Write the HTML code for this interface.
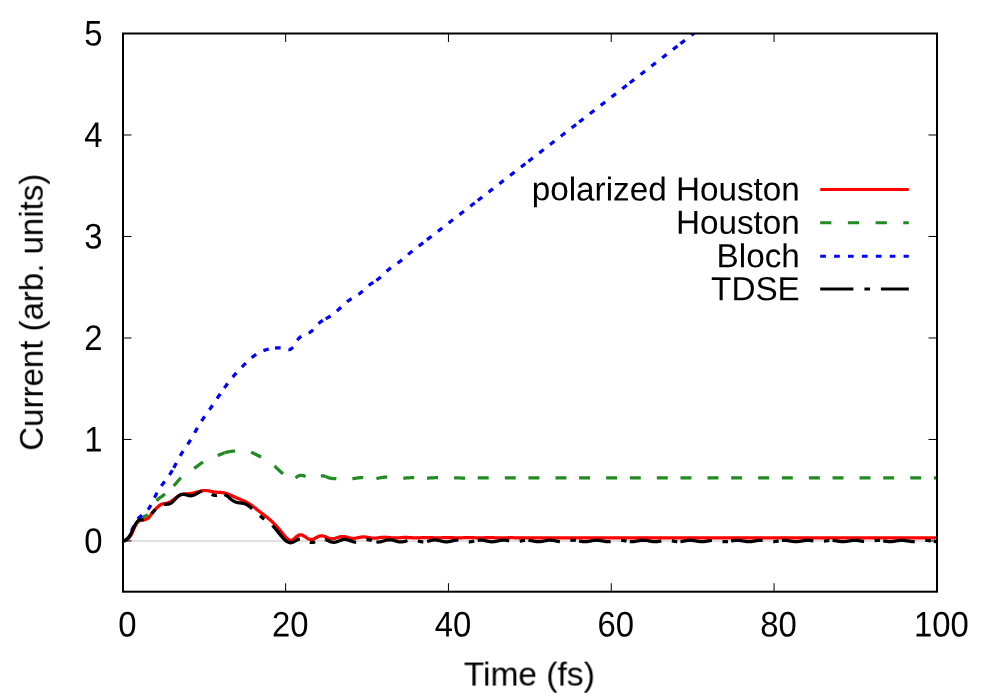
<!DOCTYPE html>
<html lang="en"><head><meta charset="utf-8"><title>Current vs Time</title>
<style>html,body{margin:0;padding:0;background:#fff;}body{width:997px;height:698px;overflow:hidden;font-family:"Liberation Sans",sans-serif;}</style>
</head><body>
<svg width="997" height="698" viewBox="0 0 997 698" style="display:block;font-family:'Liberation Sans',sans-serif;font-size:33.33px" fill="#000">
<rect width="997" height="698" fill="#fff"/>
<defs><clipPath id="pc"><rect x="123.0" y="33.5" width="814.0" height="558.2"/></clipPath></defs>
<line x1="123.0" y1="541" x2="937.0" y2="541" stroke="#e0e0e0" stroke-width="2"/>
<g stroke="#000" stroke-width="1"><line x1="285.65" y1="591.7" x2="285.65" y2="583.2"/><line x1="285.65" y1="33.5" x2="285.65" y2="42.0"/><line x1="448.45" y1="591.7" x2="448.45" y2="583.2"/><line x1="448.45" y1="33.5" x2="448.45" y2="42.0"/><line x1="611.25" y1="591.7" x2="611.25" y2="583.2"/><line x1="611.25" y1="33.5" x2="611.25" y2="42.0"/><line x1="774.05" y1="591.7" x2="774.05" y2="583.2"/><line x1="774.05" y1="33.5" x2="774.05" y2="42.0"/><line x1="123.0" y1="540.95" x2="131.5" y2="540.95"/><line x1="937.0" y1="540.95" x2="928.5" y2="540.95"/><line x1="123.0" y1="439.46" x2="131.5" y2="439.46"/><line x1="937.0" y1="439.46" x2="928.5" y2="439.46"/><line x1="123.0" y1="337.97" x2="131.5" y2="337.97"/><line x1="937.0" y1="337.97" x2="928.5" y2="337.97"/><line x1="123.0" y1="236.48" x2="131.5" y2="236.48"/><line x1="937.0" y1="236.48" x2="928.5" y2="236.48"/><line x1="123.0" y1="134.99" x2="131.5" y2="134.99"/><line x1="937.0" y1="134.99" x2="928.5" y2="134.99"/><line x1="123.0" y1="33.50" x2="131.5" y2="33.50"/><line x1="937.0" y1="33.50" x2="928.5" y2="33.50"/></g>
<g clip-path="url(#pc)">
<path fill="none" stroke="#ff0000" stroke-width="3.25" stroke-linejoin="round" d="M123.00 540.80 L123.50 540.80 L124.00 540.78 L124.50 540.73 L125.00 540.64 L125.50 540.50 L126.00 540.30 L126.50 540.03 L127.00 539.70 L127.50 539.30 L128.00 538.83 L128.50 538.31 L129.00 537.73 L129.50 537.13 L130.00 536.49 L130.50 535.80 L131.00 535.02 L131.50 534.12 L132.00 533.10 L132.50 531.99 L133.00 530.83 L133.50 529.66 L134.00 528.52 L134.50 527.44 L135.00 526.41 L135.50 525.44 L136.00 524.54 L136.50 523.71 L137.00 522.96 L137.50 522.30 L138.00 521.73 L138.50 521.26 L139.00 520.90 L139.50 520.63 L140.00 520.45 L140.50 520.33 L141.00 520.25 L141.50 520.20 L142.00 520.16 L142.50 520.11 L143.00 520.06 L143.50 520.00 L144.00 519.92 L144.50 519.82 L145.00 519.70 L145.50 519.54 L146.00 519.35 L146.50 519.12 L147.00 518.86 L147.50 518.55 L148.00 518.19 L148.50 517.78 L149.00 517.30 L149.50 516.76 L150.00 516.13 L150.50 515.43 L151.00 514.68 L151.50 513.90 L152.00 513.15 L152.50 512.44 L153.00 511.80 L153.50 511.19 L154.00 510.63 L154.50 510.09 L155.00 509.56 L155.50 509.05 L156.00 508.56 L156.50 508.07 L157.00 507.59 L157.50 507.12 L158.00 506.66 L158.50 506.22 L159.00 505.80 L159.50 505.41 L160.00 505.06 L160.50 504.76 L161.00 504.50 L161.50 504.28 L162.00 504.09 L162.50 503.94 L163.00 503.82 L163.50 503.73 L164.00 503.65 L164.50 503.58 L165.00 503.52 L165.50 503.43 L166.00 503.34 L166.50 503.22 L167.00 503.09 L167.50 502.94 L168.00 502.76 L168.50 502.57 L169.00 502.35 L169.50 502.12 L170.00 501.87 L170.50 501.60 L171.00 501.31 L171.50 501.00 L172.00 500.68 L172.50 500.35 L173.00 500.00 L173.50 499.64 L174.00 499.26 L174.50 498.88 L175.00 498.50 L175.50 498.11 L176.00 497.73 L176.50 497.35 L177.00 496.99 L177.50 496.63 L178.00 496.30 L178.50 495.98 L179.00 495.69 L179.50 495.42 L180.00 495.17 L180.50 494.95 L181.00 494.75 L181.50 494.58 L182.00 494.42 L182.50 494.29 L183.00 494.18 L183.50 494.08 L184.00 494.01 L184.50 493.95 L185.00 493.90 L185.50 493.86 L186.00 493.83 L186.50 493.81 L187.00 493.79 L187.50 493.77 L188.00 493.76 L188.50 493.73 L189.00 493.71 L189.50 493.67 L190.00 493.62 L190.50 493.56 L191.00 493.49 L191.50 493.40 L192.00 493.31 L192.50 493.20 L193.00 493.09 L193.50 492.97 L194.00 492.84 L194.50 492.71 L195.00 492.57 L195.50 492.44 L196.00 492.30 L196.50 492.16 L197.00 492.03 L197.50 491.89 L198.00 491.76 L198.50 491.63 L199.00 491.51 L199.50 491.38 L200.00 491.27 L200.50 491.15 L201.00 491.04 L201.50 490.94 L202.00 490.84 L202.50 490.75 L203.00 490.67 L203.50 490.60 L204.00 490.55 L204.50 490.51 L205.00 490.50 L205.50 490.50 L206.00 490.52 L206.50 490.55 L207.00 490.60 L207.50 490.67 L208.00 490.74 L208.50 490.83 L209.00 490.92 L209.50 491.02 L210.00 491.12 L210.50 491.23 L211.00 491.34 L211.50 491.45 L212.00 491.56 L212.50 491.66 L213.00 491.76 L213.50 491.85 L214.00 491.94 L214.50 492.01 L215.00 492.08 L215.50 492.13 L216.00 492.18 L216.50 492.22 L217.00 492.25 L217.50 492.28 L218.00 492.31 L218.50 492.33 L219.00 492.36 L219.50 492.39 L220.00 492.41 L220.50 492.45 L221.00 492.48 L221.50 492.52 L222.00 492.58 L222.50 492.63 L223.00 492.70 L223.50 492.79 L224.00 492.88 L224.50 492.99 L225.00 493.11 L225.50 493.24 L226.00 493.39 L226.50 493.55 L227.00 493.72 L227.50 493.90 L228.00 494.09 L228.50 494.28 L229.00 494.49 L229.50 494.70 L230.00 494.91 L230.50 495.13 L231.00 495.36 L231.50 495.58 L232.00 495.82 L232.50 496.05 L233.00 496.28 L233.50 496.51 L234.00 496.75 L234.50 496.98 L235.00 497.21 L235.50 497.43 L236.00 497.66 L236.50 497.87 L237.00 498.09 L237.50 498.30 L238.00 498.50 L238.50 498.71 L239.00 498.91 L239.50 499.11 L240.00 499.31 L240.50 499.51 L241.00 499.72 L241.50 499.92 L242.00 500.13 L242.50 500.34 L243.00 500.55 L243.50 500.77 L244.00 500.99 L244.50 501.22 L245.00 501.46 L245.50 501.70 L246.00 501.95 L246.50 502.21 L247.00 502.48 L247.50 502.75 L248.00 503.04 L248.50 503.34 L249.00 503.65 L249.50 503.97 L250.00 504.30 L250.50 504.64 L251.00 504.98 L251.50 505.34 L252.00 505.70 L252.50 506.07 L253.00 506.44 L253.50 506.82 L254.00 507.20 L254.50 507.59 L255.00 507.98 L255.50 508.37 L256.00 508.77 L256.50 509.17 L257.00 509.57 L257.50 509.96 L258.00 510.36 L258.50 510.76 L259.00 511.16 L259.50 511.55 L260.00 511.94 L260.50 512.33 L261.00 512.72 L261.50 513.10 L262.00 513.48 L262.50 513.86 L263.00 514.24 L263.50 514.62 L264.00 515.00 L264.50 515.38 L265.00 515.76 L265.50 516.15 L266.00 516.53 L266.50 516.92 L267.00 517.32 L267.50 517.72 L268.00 518.12 L268.50 518.53 L269.00 518.95 L269.50 519.37 L270.00 519.80 L270.50 520.24 L271.00 520.69 L271.50 521.14 L272.00 521.61 L272.50 522.09 L273.00 522.58 L273.50 523.07 L274.00 523.58 L274.50 524.10 L275.00 524.62 L275.50 525.16 L276.00 525.70 L276.50 526.25 L277.00 526.81 L277.50 527.38 L278.00 527.95 L278.50 528.53 L279.00 529.11 L279.50 529.70 L280.00 530.30 L280.50 530.90 L281.00 531.50 L281.50 532.11 L282.00 532.72 L282.50 533.34 L283.00 533.95 L283.50 534.56 L284.00 535.15 L284.50 535.74 L285.00 536.30 L285.50 536.84 L286.00 537.36 L286.50 537.85 L287.00 538.30 L287.50 538.72 L288.00 539.10 L288.50 539.45 L289.00 539.79 L289.50 540.11 L290.00 540.42 L290.50 540.58 L291.00 540.48 L291.50 540.32 L292.00 540.09 L292.50 539.81 L293.00 539.48 L293.50 539.11 L294.00 538.71 L294.50 538.29 L295.00 537.85 L295.50 537.42 L296.00 536.99 L296.50 536.59 L297.00 536.21 L297.50 535.86 L298.00 535.55 L298.50 535.30 L299.00 535.09 L299.50 534.94 L300.00 534.85 L300.50 534.82 L301.00 534.84 L301.50 534.92 L302.00 535.06 L302.50 535.24 L303.00 535.47 L303.50 535.74 L304.00 536.03 L304.50 536.36 L305.00 536.69 L305.50 537.04 L306.00 537.39 L306.50 537.73 L307.00 538.06 L307.50 538.36 L308.00 538.64 L308.50 538.88 L309.00 539.09 L309.50 539.26 L310.00 539.38 L310.50 539.46 L311.00 539.49 L311.50 539.47 L312.00 539.41 L312.50 539.31 L313.00 539.16 L313.50 538.99 L314.00 538.78 L314.50 538.55 L315.00 538.30 L315.50 538.03 L316.00 537.76 L316.50 537.49 L317.00 537.22 L317.50 536.97 L318.00 536.73 L318.50 536.51 L319.00 536.32 L319.50 536.16 L320.00 536.03 L320.50 535.94 L321.00 535.88 L321.50 535.86 L322.00 535.88 L322.50 535.93 L323.00 536.02 L323.50 536.13 L324.00 536.27 L324.50 536.44 L325.00 536.63 L325.50 536.83 L326.00 537.04 L326.50 537.26 L327.00 537.48 L327.50 537.69 L328.00 537.90 L328.50 538.09 L329.00 538.26 L329.50 538.42 L330.00 538.55 L330.50 538.65 L331.00 538.73 L331.50 538.78 L332.00 538.80 L332.50 538.79 L333.00 538.75 L333.50 538.69 L334.00 538.60 L334.50 538.49 L335.00 538.36 L335.50 538.21 L336.00 538.06 L336.50 537.89 L337.00 537.72 L337.50 537.55 L338.00 537.38 L338.50 537.22 L339.00 537.08 L339.50 536.94 L340.00 536.82 L340.50 536.72 L341.00 536.64 L341.50 536.58 L342.00 536.55 L342.50 536.53 L343.00 536.54 L343.50 536.58 L344.00 536.63 L344.50 536.70 L345.00 536.79 L345.50 536.90 L346.00 537.02 L346.50 537.14 L347.00 537.28 L347.50 537.41 L348.00 537.55 L348.50 537.68 L349.00 537.81 L349.50 537.93 L350.00 538.04 L350.50 538.14 L351.00 538.22 L351.50 538.29 L352.00 538.34 L352.50 538.37 L353.00 538.38 L353.50 538.37 L354.00 538.35 L354.50 538.31 L355.00 538.25 L355.50 538.19 L356.00 538.10 L356.50 538.01 L357.00 537.92 L357.50 537.81 L358.00 537.71 L358.50 537.60 L359.00 537.50 L359.50 537.40 L360.00 537.30 L360.50 537.22 L361.00 537.14 L361.50 537.08 L362.00 537.03 L362.50 536.99 L363.00 536.97 L363.50 536.96 L364.00 536.97 L364.50 536.99 L365.00 537.03 L365.50 537.07 L366.00 537.13 L366.50 537.19 L367.00 537.27 L367.50 537.35 L368.00 537.43 L368.50 537.52 L369.00 537.60 L369.50 537.69 L370.00 537.77 L370.50 537.85 L371.00 537.91 L371.50 537.98 L372.00 538.03 L372.50 538.07 L373.00 538.10 L373.50 538.12 L374.00 538.13 L374.50 538.12 L375.00 538.11 L375.50 538.08 L376.00 538.05 L376.50 538.01 L377.00 537.96 L377.50 537.90 L378.00 537.84 L378.50 537.77 L379.00 537.71 L379.50 537.64 L380.00 537.57 L380.50 537.51 L381.00 537.45 L381.50 537.40 L382.00 537.35 L382.50 537.31 L383.00 537.28 L383.50 537.26 L384.00 537.25 L384.50 537.24 L385.00 537.25 L385.50 537.26 L386.00 537.28 L386.50 537.31 L387.00 537.35 L387.50 537.39 L388.00 537.43 L388.50 537.48 L389.00 537.54 L389.50 537.59 L390.00 537.65 L390.50 537.70 L391.00 537.75 L391.50 537.80 L392.00 537.84 L392.50 537.88 L393.00 537.91 L393.50 537.94 L394.00 537.96 L394.50 537.97 L395.00 537.98 L395.50 537.97 L396.00 537.96 L396.50 537.95 L397.00 537.93 L397.50 537.90 L398.00 537.87 L398.50 537.83 L399.00 537.80 L399.50 537.75 L400.00 537.71 L400.50 537.67 L401.00 537.63 L401.50 537.59 L402.00 537.56 L402.50 537.52 L403.00 537.49 L403.50 537.47 L404.00 537.45 L404.50 537.44 L405.00 537.43 L405.50 537.42 L406.00 537.43 L406.50 537.44 L407.00 537.45 L407.50 537.47 L408.00 537.49 L408.50 537.52 L409.00 537.55 L409.50 537.58 L410.00 537.61 L410.50 537.64 L411.00 537.68 L411.50 537.71 L412.00 537.74 L412.50 537.77 L413.00 537.80 L413.50 537.83 L414.00 537.85 L414.50 537.86 L415.00 537.88 L415.50 537.88 L416.00 537.89 L416.50 537.89 L417.00 537.88 L417.50 537.87 L418.00 537.86 L418.50 537.84 L419.00 537.82 L419.50 537.80 L420.00 537.77 L420.50 537.75 L421.00 537.72 L421.50 537.70 L422.00 537.67 L422.50 537.65 L423.00 537.63 L423.50 537.60 L424.00 537.59 L424.50 537.57 L425.00 537.56 L425.50 537.55 L426.00 537.55 L426.50 537.54 L427.00 537.55 L427.50 537.55 L428.00 537.56 L428.50 537.57 L429.00 537.59 L429.50 537.60 L430.00 537.62 L430.50 537.64 L431.00 537.66 L431.50 537.68 L432.00 537.70 L432.50 537.73 L433.00 537.75 L433.50 537.77 L434.00 537.78 L434.50 537.80 L435.00 537.81 L435.50 537.82 L436.00 537.83 L436.50 537.83 L437.00 537.84 L437.50 537.84 L438.00 537.83 L438.50 537.83 L439.00 537.82 L439.50 537.81 L440.00 537.80 L440.50 537.78 L441.00 537.77 L441.50 537.75 L442.00 537.73 L442.50 537.72 L443.00 537.70 L443.50 537.69 L444.00 537.67 L444.50 537.66 L445.00 537.65 L445.50 537.64 L446.00 537.63 L446.50 537.63 L447.00 537.62 L447.50 537.62 L448.00 537.62 L448.50 537.63 L449.00 537.63 L449.50 537.64 L450.00 537.65 L450.50 537.66 L451.00 537.67 L451.50 537.68 L452.00 537.70 L452.50 537.71 L453.00 537.72 L453.50 537.74 L454.00 537.75 L454.50 537.76 L455.00 537.77 L455.50 537.78 L456.00 537.79 L456.50 537.80 L457.00 537.80 L457.50 537.81 L458.00 537.81 L458.50 537.81 L459.00 537.81 L459.50 537.80 L460.00 537.80 L460.50 537.79 L461.00 537.78 L461.50 537.77 L462.00 537.77 L462.50 537.76 L463.00 537.75 L463.50 537.74 L464.00 537.73 L464.50 537.72 L465.00 537.71 L465.50 537.70 L466.00 537.69 L466.50 537.69 L467.00 537.68 L467.50 537.68 L468.00 537.68 L468.50 537.68 L469.00 537.68 L469.50 537.68 L470.00 537.68 L470.50 537.69 L471.00 537.69 L471.50 537.70 L472.00 537.71 L472.50 537.72 L473.00 537.72 L473.50 537.73 L474.00 537.74 L474.50 537.75 L475.00 537.76 L475.50 537.76 L476.00 537.77 L476.50 537.78 L477.00 537.78 L477.50 537.79 L478.00 537.79 L478.50 537.79 L479.00 537.79 L479.50 537.79 L480.00 537.79 L480.50 537.79 L481.00 537.79 L481.50 537.78 L482.00 537.78 L482.50 537.77 L483.00 537.77 L483.50 537.76 L484.00 537.75 L484.50 537.75 L485.00 537.74 L485.50 537.74 L486.00 537.73 L486.50 537.73 L487.00 537.72 L487.50 537.72 L488.00 537.72 L488.50 537.71 L489.00 537.71 L489.50 537.71 L490.00 537.71 L490.50 537.71 L491.00 537.72 L491.50 537.72 L492.00 537.72 L492.50 537.73 L493.00 537.73 L493.50 537.74 L494.00 537.74 L494.50 537.75 L495.00 537.75 L495.50 537.76 L496.00 537.76 L496.50 537.77 L497.00 537.77 L497.50 537.78 L498.00 537.78 L498.50 537.78 L499.00 537.78 L499.50 537.79 L500.00 537.79 L500.50 537.79 L501.00 537.79 L501.50 537.78 L502.00 537.78 L502.50 537.78 L503.00 537.78 L503.50 537.77 L504.00 537.77 L504.50 537.77 L505.00 537.76 L505.50 537.76 L506.00 537.76 L506.50 537.75 L507.00 537.75 L507.50 537.75 L508.00 537.74 L508.50 537.74 L509.00 537.74 L509.50 537.74 L510.00 537.74 L510.50 537.74 L511.00 537.74 L511.50 537.74 L512.00 537.74 L512.50 537.74 L513.00 537.74 L513.50 537.75 L514.00 537.75 L514.50 537.75 L515.00 537.76 L515.50 537.76 L516.00 537.76 L516.50 537.77 L517.00 537.77 L517.50 537.77 L518.00 537.78 L518.50 537.78 L519.00 537.78 L519.50 537.78 L520.00 537.78 L520.50 537.78 L521.00 537.78 L521.50 537.78 L522.00 537.78 L522.50 537.78 L523.00 537.78 L523.50 537.78 L524.00 537.78 L524.50 537.78 L525.00 537.77 L525.50 537.77 L526.00 537.77 L526.50 537.77 L527.00 537.77 L527.50 537.76 L528.00 537.76 L528.50 537.76 L529.00 537.76 L529.50 537.76 L530.00 537.76 L530.50 537.75 L531.00 537.75 L531.50 537.75 L532.00 537.75 L532.50 537.75 L533.00 537.76 L533.50 537.76 L534.00 537.76 L534.50 537.76 L535.00 537.76 L535.50 537.76 L536.00 537.77 L536.50 537.77 L537.00 537.77 L537.50 537.77 L538.00 537.78 L538.50 537.78 L539.00 537.78 L539.50 537.78 L540.00 537.78 L540.50 537.78 L541.00 537.78 L541.50 537.78 L542.00 537.78 L542.50 537.78 L543.00 537.78 L543.50 537.78 L544.00 537.78 L544.50 537.78 L545.00 537.78 L545.50 537.78 L546.00 537.78 L546.50 537.78 L547.00 537.78 L547.50 537.77 L548.00 537.77 L548.50 537.77 L549.00 537.77 L549.50 537.77 L550.00 537.77 L550.50 537.77 L551.00 537.77 L551.50 537.77 L552.00 537.77 L552.50 537.77 L553.00 537.77 L553.50 537.77 L554.00 537.77 L554.50 537.77 L555.00 537.77 L555.50 537.77 L556.00 537.77 L556.50 537.77 L557.00 537.77 L557.50 537.78 L558.00 537.78 L558.50 537.78 L559.00 537.78 L559.50 537.78 L560.00 537.78 L560.50 537.78 L561.00 537.78 L561.50 537.78 L562.00 537.79 L562.50 537.79 L563.00 537.79 L563.50 537.79 L564.00 537.79 L564.50 537.79 L565.00 537.79 L565.50 537.78 L566.00 537.78 L566.50 537.78 L567.00 537.78 L567.50 537.78 L568.00 537.78 L568.50 537.78 L569.00 537.78 L569.50 537.78 L570.00 537.78 L570.50 537.78 L571.00 537.78 L571.50 537.78 L572.00 537.77 L572.50 537.77 L573.00 537.77 L573.50 537.77 L574.00 537.77 L574.50 537.78 L575.00 537.78 L575.50 537.78 L576.00 537.78 L576.50 537.78 L577.00 537.78 L577.50 537.78 L578.00 537.78 L578.50 537.78 L579.00 537.78 L579.50 537.78 L580.00 537.78 L580.50 537.78 L581.00 537.79 L581.50 537.79 L582.00 537.79 L582.50 537.79 L583.00 537.79 L583.50 537.79 L584.00 537.79 L584.50 537.79 L585.00 537.79 L585.50 537.79 L586.00 537.79 L586.50 537.79 L587.00 537.79 L587.50 537.79 L588.00 537.79 L588.50 537.78 L589.00 537.78 L589.50 537.78 L590.00 537.78 L590.50 537.78 L591.00 537.78 L591.50 537.78 L592.00 537.78 L592.50 537.78 L593.00 537.78 L593.50 537.78 L594.00 537.78 L594.50 537.78 L595.00 537.78 L595.50 537.78 L596.00 537.78 L596.50 537.78 L597.00 537.78 L597.50 537.78 L598.00 537.78 L598.50 537.78 L599.00 537.78 L599.50 537.78 L600.00 537.79 L600.50 537.79 L601.00 537.79 L601.50 537.79 L602.00 537.79 L602.50 537.79 L603.00 537.79 L603.50 537.79 L604.00 537.79 L604.50 537.79 L605.00 537.79 L605.50 537.79 L606.00 537.79 L606.50 537.79 L607.00 537.79 L607.50 537.79 L608.00 537.79 L608.50 537.79 L609.00 537.79 L609.50 537.79 L610.00 537.79 L610.50 537.79 L611.00 537.79 L611.50 537.79 L612.00 537.79 L612.50 537.79 L613.00 537.79 L613.50 537.79 L614.00 537.79 L614.50 537.79 L615.00 537.79 L615.50 537.79 L616.00 537.79 L616.50 537.79 L617.00 537.79 L617.50 537.79 L618.00 537.79 L618.50 537.79 L619.00 537.79 L619.50 537.79 L620.00 537.79 L620.50 537.79 L621.00 537.79 L621.50 537.79 L622.00 537.79 L622.50 537.79 L623.00 537.79 L623.50 537.79 L624.00 537.79 L624.50 537.79 L625.00 537.79 L625.50 537.79 L626.00 537.79 L626.50 537.79 L627.00 537.79 L627.50 537.79 L628.00 537.79 L628.50 537.79 L629.00 537.79 L629.50 537.79 L630.00 537.79 L630.50 537.79 L631.00 537.79 L631.50 537.79 L632.00 537.79 L632.50 537.79 L633.00 537.79 L633.50 537.79 L634.00 537.79 L634.50 537.79 L635.00 537.79 L635.50 537.79 L636.00 537.79 L636.50 537.79 L637.00 537.79 L637.50 537.79 L638.00 537.79 L638.50 537.79 L639.00 537.79 L639.50 537.79 L640.00 537.79 L640.50 537.79 L641.00 537.79 L641.50 537.79 L642.00 537.79 L642.50 537.79 L643.00 537.79 L643.50 537.79 L644.00 537.79 L644.50 537.79 L645.00 537.79 L645.50 537.79 L646.00 537.79 L646.50 537.79 L647.00 537.79 L647.50 537.79 L648.00 537.79 L648.50 537.79 L649.00 537.79 L649.50 537.79 L650.00 537.79 L650.50 537.79 L651.00 537.79 L651.50 537.79 L652.00 537.79 L652.50 537.79 L653.00 537.79 L653.50 537.79 L654.00 537.79 L654.50 537.79 L655.00 537.79 L655.50 537.79 L656.00 537.79 L656.50 537.79 L657.00 537.79 L657.50 537.79 L658.00 537.79 L658.50 537.79 L659.00 537.79 L659.50 537.79 L660.00 537.79 L660.50 537.79 L661.00 537.79 L661.50 537.79 L662.00 537.79 L662.50 537.79 L663.00 537.79 L663.50 537.79 L664.00 537.79 L664.50 537.79 L665.00 537.79 L665.50 537.79 L666.00 537.79 L666.50 537.79 L667.00 537.79 L667.50 537.79 L668.00 537.79 L668.50 537.79 L669.00 537.79 L669.50 537.79 L670.00 537.79 L670.50 537.79 L671.00 537.79 L671.50 537.79 L672.00 537.79 L672.50 537.79 L673.00 537.79 L673.50 537.79 L674.00 537.79 L674.50 537.79 L675.00 537.79 L675.50 537.79 L676.00 537.79 L676.50 537.79 L677.00 537.79 L677.50 537.79 L678.00 537.79 L678.50 537.79 L679.00 537.79 L679.50 537.79 L680.00 537.79 L680.50 537.79 L681.00 537.79 L681.50 537.79 L682.00 537.79 L682.50 537.79 L683.00 537.79 L683.50 537.79 L684.00 537.79 L684.50 537.79 L685.00 537.79 L685.50 537.79 L686.00 537.79 L686.50 537.79 L687.00 537.79 L687.50 537.79 L688.00 537.80 L688.50 537.80 L689.00 537.80 L689.50 537.80 L690.00 537.80 L690.50 537.80 L691.00 537.80 L691.50 537.80 L692.00 537.80 L692.50 537.80 L693.00 537.80 L693.50 537.80 L694.00 537.79 L694.50 537.79 L695.00 537.79 L695.50 537.79 L696.00 537.79 L696.50 537.79 L697.00 537.79 L697.50 537.79 L698.00 537.79 L698.50 537.79 L699.00 537.79 L699.50 537.79 L700.00 537.79 L700.50 537.79 L701.00 537.79 L701.50 537.80 L702.00 537.80 L702.50 537.80 L703.00 537.80 L703.50 537.80 L704.00 537.80 L704.50 537.80 L705.00 537.80 L705.50 537.80 L706.00 537.80 L706.50 537.80 L707.00 537.80 L707.50 537.80 L708.00 537.80 L708.50 537.80 L709.00 537.80 L709.50 537.80 L710.00 537.80 L710.50 537.80 L711.00 537.80 L711.50 537.80 L712.00 537.80 L712.50 537.80 L713.00 537.80 L713.50 537.80 L714.00 537.80 L714.50 537.80 L715.00 537.80 L715.50 537.80 L716.00 537.80 L716.50 537.80 L717.00 537.80 L717.50 537.80 L718.00 537.80 L718.50 537.80 L719.00 537.80 L719.50 537.80 L720.00 537.80 L720.50 537.80 L721.00 537.80 L721.50 537.80 L722.00 537.80 L722.50 537.80 L723.00 537.80 L723.50 537.80 L724.00 537.80 L724.50 537.80 L725.00 537.80 L725.50 537.80 L726.00 537.80 L726.50 537.80 L727.00 537.80 L727.50 537.80 L728.00 537.80 L728.50 537.80 L729.00 537.80 L729.50 537.80 L730.00 537.80 L730.50 537.80 L731.00 537.80 L731.50 537.80 L732.00 537.80 L732.50 537.80 L733.00 537.80 L733.50 537.80 L734.00 537.80 L734.50 537.80 L735.00 537.80 L735.50 537.80 L736.00 537.80 L736.50 537.80 L737.00 537.80 L737.50 537.80 L738.00 537.80 L738.50 537.80 L739.00 537.80 L739.50 537.80 L740.00 537.80 L740.50 537.80 L741.00 537.80 L741.50 537.80 L742.00 537.80 L742.50 537.80 L743.00 537.80 L743.50 537.80 L744.00 537.80 L744.50 537.80 L745.00 537.80 L745.50 537.80 L746.00 537.80 L746.50 537.80 L747.00 537.80 L747.50 537.80 L748.00 537.80 L748.50 537.80 L749.00 537.80 L749.50 537.80 L750.00 537.80 L750.50 537.80 L751.00 537.80 L751.50 537.80 L752.00 537.80 L752.50 537.80 L753.00 537.80 L753.50 537.80 L754.00 537.80 L754.50 537.80 L755.00 537.80 L755.50 537.80 L756.00 537.80 L756.50 537.80 L757.00 537.80 L757.50 537.80 L758.00 537.80 L758.50 537.80 L759.00 537.80 L759.50 537.80 L760.00 537.80 L760.50 537.80 L761.00 537.80 L761.50 537.80 L762.00 537.80 L762.50 537.80 L763.00 537.80 L763.50 537.80 L764.00 537.80 L764.50 537.80 L765.00 537.80 L765.50 537.80 L766.00 537.80 L766.50 537.80 L767.00 537.80 L767.50 537.80 L768.00 537.80 L768.50 537.80 L769.00 537.80 L769.50 537.80 L770.00 537.80 L770.50 537.80 L771.00 537.80 L771.50 537.80 L772.00 537.80 L772.50 537.80 L773.00 537.80 L773.50 537.80 L774.00 537.80 L774.50 537.80 L775.00 537.80 L775.50 537.80 L776.00 537.80 L776.50 537.80 L777.00 537.80 L777.50 537.80 L778.00 537.80 L778.50 537.80 L779.00 537.80 L779.50 537.80 L780.00 537.80 L780.50 537.80 L781.00 537.80 L781.50 537.80 L782.00 537.80 L782.50 537.80 L783.00 537.80 L783.50 537.80 L784.00 537.80 L784.50 537.80 L785.00 537.80 L785.50 537.80 L786.00 537.80 L786.50 537.80 L787.00 537.80 L787.50 537.80 L788.00 537.80 L788.50 537.80 L789.00 537.80 L789.50 537.80 L790.00 537.80 L790.50 537.80 L791.00 537.80 L791.50 537.80 L792.00 537.80 L792.50 537.80 L793.00 537.80 L793.50 537.80 L794.00 537.80 L794.50 537.80 L795.00 537.80 L795.50 537.80 L796.00 537.80 L796.50 537.80 L797.00 537.80 L797.50 537.80 L798.00 537.80 L798.50 537.80 L799.00 537.80 L799.50 537.80 L800.00 537.80 L800.50 537.80 L801.00 537.80 L801.50 537.80 L802.00 537.80 L802.50 537.80 L803.00 537.80 L803.50 537.80 L804.00 537.80 L804.50 537.80 L805.00 537.80 L805.50 537.80 L806.00 537.80 L806.50 537.80 L807.00 537.80 L807.50 537.80 L808.00 537.80 L808.50 537.80 L809.00 537.80 L809.50 537.80 L810.00 537.80 L810.50 537.80 L811.00 537.80 L811.50 537.80 L812.00 537.80 L812.50 537.80 L813.00 537.80 L813.50 537.80 L814.00 537.80 L814.50 537.80 L815.00 537.80 L815.50 537.80 L816.00 537.80 L816.50 537.80 L817.00 537.80 L817.50 537.80 L818.00 537.80 L818.50 537.80 L819.00 537.80 L819.50 537.80 L820.00 537.80 L820.50 537.80 L821.00 537.80 L821.50 537.80 L822.00 537.80 L822.50 537.80 L823.00 537.80 L823.50 537.80 L824.00 537.80 L824.50 537.80 L825.00 537.80 L825.50 537.80 L826.00 537.80 L826.50 537.80 L827.00 537.80 L827.50 537.80 L828.00 537.80 L828.50 537.80 L829.00 537.80 L829.50 537.80 L830.00 537.80 L830.50 537.80 L831.00 537.80 L831.50 537.80 L832.00 537.80 L832.50 537.80 L833.00 537.80 L833.50 537.80 L834.00 537.80 L834.50 537.80 L835.00 537.80 L835.50 537.80 L836.00 537.80 L836.50 537.80 L837.00 537.80 L837.50 537.80 L838.00 537.80 L838.50 537.80 L839.00 537.80 L839.50 537.80 L840.00 537.80 L840.50 537.80 L841.00 537.80 L841.50 537.80 L842.00 537.80 L842.50 537.80 L843.00 537.80 L843.50 537.80 L844.00 537.80 L844.50 537.80 L845.00 537.80 L845.50 537.80 L846.00 537.80 L846.50 537.80 L847.00 537.80 L847.50 537.80 L848.00 537.80 L848.50 537.80 L849.00 537.80 L849.50 537.80 L850.00 537.80 L850.50 537.80 L851.00 537.80 L851.50 537.80 L852.00 537.80 L852.50 537.80 L853.00 537.80 L853.50 537.80 L854.00 537.80 L854.50 537.80 L855.00 537.80 L855.50 537.80 L856.00 537.80 L856.50 537.80 L857.00 537.80 L857.50 537.80 L858.00 537.80 L858.50 537.80 L859.00 537.80 L859.50 537.80 L860.00 537.80 L860.50 537.80 L861.00 537.80 L861.50 537.80 L862.00 537.80 L862.50 537.80 L863.00 537.80 L863.50 537.80 L864.00 537.80 L864.50 537.80 L865.00 537.80 L865.50 537.80 L866.00 537.80 L866.50 537.80 L867.00 537.80 L867.50 537.80 L868.00 537.80 L868.50 537.80 L869.00 537.80 L869.50 537.80 L870.00 537.80 L870.50 537.80 L871.00 537.80 L871.50 537.80 L872.00 537.80 L872.50 537.80 L873.00 537.80 L873.50 537.80 L874.00 537.80 L874.50 537.80 L875.00 537.80 L875.50 537.80 L876.00 537.80 L876.50 537.80 L877.00 537.80 L877.50 537.80 L878.00 537.80 L878.50 537.80 L879.00 537.80 L879.50 537.80 L880.00 537.80 L880.50 537.80 L881.00 537.80 L881.50 537.80 L882.00 537.80 L882.50 537.80 L883.00 537.80 L883.50 537.80 L884.00 537.80 L884.50 537.80 L885.00 537.80 L885.50 537.80 L886.00 537.80 L886.50 537.80 L887.00 537.80 L887.50 537.80 L888.00 537.80 L888.50 537.80 L889.00 537.80 L889.50 537.80 L890.00 537.80 L890.50 537.80 L891.00 537.80 L891.50 537.80 L892.00 537.80 L892.50 537.80 L893.00 537.80 L893.50 537.80 L894.00 537.80 L894.50 537.80 L895.00 537.80 L895.50 537.80 L896.00 537.80 L896.50 537.80 L897.00 537.80 L897.50 537.80 L898.00 537.80 L898.50 537.80 L899.00 537.80 L899.50 537.80 L900.00 537.80 L900.50 537.80 L901.00 537.80 L901.50 537.80 L902.00 537.80 L902.50 537.80 L903.00 537.80 L903.50 537.80 L904.00 537.80 L904.50 537.80 L905.00 537.80 L905.50 537.80 L906.00 537.80 L906.50 537.80 L907.00 537.80 L907.50 537.80 L908.00 537.80 L908.50 537.80 L909.00 537.80 L909.50 537.80 L910.00 537.80 L910.50 537.80 L911.00 537.80 L911.50 537.80 L912.00 537.80 L912.50 537.80 L913.00 537.80 L913.50 537.80 L914.00 537.80 L914.50 537.80 L915.00 537.80 L915.50 537.80 L916.00 537.80 L916.50 537.80 L917.00 537.80 L917.50 537.80 L918.00 537.80 L918.50 537.80 L919.00 537.80 L919.50 537.80 L920.00 537.80 L920.50 537.80 L921.00 537.80 L921.50 537.80 L922.00 537.80 L922.50 537.80 L923.00 537.80 L923.50 537.80 L924.00 537.80 L924.50 537.80 L925.00 537.80 L925.50 537.80 L926.00 537.80 L926.50 537.80 L927.00 537.80 L927.50 537.80 L928.00 537.80 L928.50 537.80 L929.00 537.80 L929.50 537.80 L930.00 537.80 L930.50 537.80 L931.00 537.80 L931.50 537.80 L932.00 537.80 L932.50 537.80 L933.00 537.80 L933.50 537.80 L934.00 537.80 L934.50 537.80 L935.00 537.80 L935.50 537.80 L936.00 537.80 L936.50 537.80 L937.00 537.80"/>
<g fill="none" stroke="#228b22" stroke-width="3.25" stroke-linejoin="round" stroke-dasharray="10.95 16.1">
<path d="M123.00 540.80 L123.50 540.78 L124.00 540.71 L124.50 540.60 L125.00 540.42 L125.50 540.20 L126.00 539.90 L126.50 539.55 L127.00 539.12 L127.50 538.63 L128.00 538.08 L128.50 537.50 L129.00 536.87 L129.50 536.22 L130.00 535.50 L130.50 534.68 L131.00 533.73 L131.50 532.67 L132.00 531.54 L132.50 530.37 L133.00 529.20 L133.50 528.06 L134.00 526.97 L134.50 525.92 L135.00 524.93 L135.50 524.00 L136.00 523.13 L136.50 522.34 L137.00 521.61 L137.50 520.97 L138.00 520.40 L138.50 519.91 L139.00 519.50 L139.50 519.13 L140.00 518.80 L140.50 518.49 L141.00 518.20 L141.50 517.92 L142.00 517.65 L142.50 517.39 L143.00 517.14 L143.50 516.90 L144.00 516.67 L144.50 516.43 L145.00 516.20 L145.50 515.96 L146.00 515.71 L146.50 515.44 L147.00 515.12 L147.50 514.74 L148.00 514.30 L148.50 513.78 L149.00 513.18 L149.50 512.52 L150.00 511.80 L150.50 511.03 L151.00 510.22 L151.50 509.37 L152.00 508.50 L152.50 507.61 L153.00 506.71 L153.50 505.82 L154.00 504.93 L154.50 504.06 L155.00 503.22 L155.50 502.42 L156.00 501.66 L156.50 500.96 L157.00 500.32 L157.50 499.75 L158.00 499.25 L158.50 498.80 L159.00 498.40 L159.50 498.03 L160.00 497.68 L160.50 497.34 L161.00 497.00 L161.50 496.65 L162.00 496.29 L162.50 495.91 L163.00 495.53 L163.50 495.14 L164.00 494.75 L164.50 494.34 L165.00 493.94 L165.50 493.53 L166.00 493.11 L166.50 492.69 L167.00 492.26 L167.50 491.83 L168.00 491.39 L168.50 490.95 L169.00 490.50 L169.50 490.04 L170.00 489.58 L170.50 489.10 L171.00 488.62 L171.50 488.13 L172.00 487.63 L172.50 487.13 L173.00 486.61 L173.50 486.08 L173.68 485.89"/>
<path d="M173.68 485.89 L174.00 485.55 L174.50 485.00 L175.00 484.45 L175.50 483.89 L176.00 483.31 L176.50 482.73 L177.00 482.15 L177.50 481.55 L178.00 480.96 L178.50 480.38 L179.00 479.80 L179.50 479.24 L180.00 478.71 L180.50 478.20 L181.00 477.72 L181.50 477.27 L182.00 476.84 L182.50 476.44 L183.00 476.05 L183.50 475.68 L184.00 475.33 L184.50 474.99 L185.00 474.65 L185.50 474.32 L186.00 474.00 L186.50 473.68 L187.00 473.36 L187.50 473.03 L188.00 472.71 L188.50 472.39 L189.00 472.07 L189.50 471.74 L190.00 471.41 L190.50 471.08 L191.00 470.75 L191.50 470.41 L192.00 470.07 L192.50 469.72 L193.00 469.37 L193.50 469.01 L194.00 468.65 L194.50 468.28 L195.00 467.91 L195.50 467.53 L196.00 467.15 L196.50 466.77 L197.00 466.39 L197.50 466.00 L198.00 465.61 L198.50 465.23 L199.00 464.84 L199.50 464.46 L200.00 464.08 L200.50 463.71 L201.00 463.34 L201.50 462.99 L202.00 462.64 L202.50 462.30 L203.00 461.97 L203.50 461.65 L204.00 461.35 L204.50 461.05 L205.00 460.76 L205.50 460.49 L206.00 460.22 L206.50 459.96 L207.00 459.71 L207.50 459.47 L208.00 459.24 L208.50 459.02 L209.00 458.80 L209.50 458.59 L210.00 458.39 L210.50 458.20 L211.00 458.01 L211.50 457.83 L212.00 457.65 L212.50 457.47 L213.00 457.29 L213.50 457.11 L214.00 456.94 L214.50 456.76 L215.00 456.58 L215.50 456.40 L216.00 456.21 L216.50 456.02 L217.00 455.83 L217.50 455.63 L218.00 455.43 L218.50 455.22 L219.00 455.01 L219.50 454.80 L220.00 454.60 L220.50 454.39 L221.00 454.18 L221.50 453.98 L222.00 453.78 L222.50 453.59 L223.00 453.40 L223.50 453.21 L224.00 453.03 L224.36 452.91"/>
<path d="M224.36 452.91 L224.50 452.86 L225.00 452.70 L225.50 452.55 L226.00 452.40 L226.50 452.27 L227.00 452.14 L227.50 452.02 L228.00 451.91 L228.50 451.80 L229.00 451.71 L229.50 451.62 L230.00 451.54 L230.50 451.46 L231.00 451.40 L231.50 451.33 L232.00 451.28 L232.50 451.23 L233.00 451.19 L233.50 451.15 L234.00 451.12 L234.50 451.09 L235.00 451.07 L235.50 451.05 L236.00 451.04 L236.50 451.03 L237.00 451.02 L237.50 451.02 L238.00 451.02 L238.50 451.02 L239.00 451.03 L239.50 451.04 L240.00 451.05 L240.50 451.06 L241.00 451.07 L241.50 451.09 L242.00 451.10 L242.50 451.11 L243.00 451.13 L243.50 451.15 L244.00 451.17 L244.50 451.19 L245.00 451.22 L245.50 451.26 L246.00 451.30 L246.50 451.35 L247.00 451.41 L247.50 451.47 L248.00 451.55 L248.50 451.64 L249.00 451.74 L249.50 451.86 L250.00 451.99 L250.50 452.13 L251.00 452.29 L251.50 452.46 L252.00 452.65 L252.50 452.85 L253.00 453.06 L253.50 453.27 L254.00 453.50 L254.50 453.73 L255.00 453.96 L255.50 454.20 L256.00 454.44 L256.50 454.68 L257.00 454.93 L257.50 455.18 L258.00 455.43 L258.50 455.69 L259.00 455.95 L259.50 456.21 L260.00 456.48 L260.50 456.76 L261.00 457.03 L261.50 457.32 L262.00 457.61 L262.50 457.90 L263.00 458.19 L263.50 458.49 L264.00 458.79 L264.50 459.09 L265.00 459.39 L265.50 459.70 L266.00 460.00 L266.50 460.30 L267.00 460.60 L267.50 460.90 L268.00 461.20 L268.50 461.50 L269.00 461.80 L269.50 462.11 L270.00 462.43 L270.50 462.75 L271.00 463.09 L271.50 463.44 L272.00 463.80 L272.50 464.18 L273.00 464.58 L273.50 465.00 L274.00 465.44 L274.50 465.90 L275.00 466.37 L275.04 466.41"/>
<path d="M275.04 466.41 L275.50 466.85 L276.00 467.34 L276.50 467.83 L277.00 468.33 L277.50 468.82 L278.00 469.30 L278.50 469.77 L279.00 470.24 L279.50 470.70 L280.00 471.15 L280.50 471.61 L281.00 472.07 L281.50 472.54 L282.00 473.01 L282.50 473.50 L283.00 474.00 L283.50 474.51 L284.00 475.03 L284.50 475.56 L285.00 476.08 L285.50 476.60 L286.00 477.10 L286.50 477.60 L287.00 478.08 L287.50 478.54 L288.00 478.96 L288.50 479.36 L289.00 479.72 L289.50 480.03 L290.00 480.30 L290.50 480.51 L291.00 480.66 L291.50 480.73 L292.00 480.71 L292.50 480.60 L293.00 480.39 L293.50 480.08 L294.00 479.71 L294.50 479.27 L295.00 478.80 L295.50 478.30 L296.00 477.79 L296.50 477.30 L297.00 476.85 L297.50 476.45 L298.00 476.11 L298.50 475.85 L299.00 475.64 L299.50 475.50 L300.00 475.42 L300.50 475.39 L301.00 475.39 L301.50 475.44 L302.00 475.50 L302.50 475.58 L303.00 475.67 L303.50 475.78 L304.00 475.91 L304.50 476.06 L305.00 476.24 L305.50 476.43 L306.00 476.63 L306.50 476.84 L307.00 477.06 L307.50 477.28 L308.00 477.50 L308.50 477.71 L309.00 477.92 L309.50 478.10 L310.00 478.27 L310.50 478.40 L311.00 478.51 L311.50 478.58 L312.00 478.60 L312.50 478.58 L313.00 478.52 L313.50 478.42 L314.00 478.29 L314.50 478.14 L315.00 477.97 L315.50 477.79 L316.00 477.60 L316.50 477.41 L317.00 477.23 L317.50 477.05 L318.00 476.88 L318.50 476.72 L319.00 476.56 L319.50 476.41 L320.00 476.28 L320.50 476.17 L321.00 476.07 L321.50 476.00 L322.00 475.95 L322.50 475.93 L323.00 475.94 L323.50 475.99 L324.00 476.07 L324.50 476.19 L325.00 476.33 L325.50 476.50 L325.72 476.58"/>
<path d="M325.72 476.58 L326.00 476.69 L326.50 476.88 L327.00 477.09 L327.50 477.29 L328.00 477.48 L328.50 477.67 L329.00 477.84 L329.50 477.98 L330.00 478.11 L330.50 478.21 L331.00 478.30 L331.50 478.36 L332.00 478.42 L332.50 478.47 L333.00 478.51 L333.50 478.54 L334.00 478.58 L334.50 478.61 L335.00 478.65 L335.50 478.69 L336.00 478.74 L336.50 478.80 L337.00 478.87 L337.50 478.94 L338.00 479.02 L338.50 479.09 L339.00 479.17 L339.50 479.25 L340.00 479.32 L340.50 479.40 L341.00 479.46 L341.50 479.52 L342.00 479.58 L342.50 479.62 L343.00 479.65 L343.50 479.67 L344.00 479.68 L344.50 479.67 L345.00 479.66 L345.50 479.64 L346.00 479.61 L346.50 479.57 L347.00 479.52 L347.50 479.47 L348.00 479.41 L348.50 479.35 L349.00 479.28 L349.50 479.21 L350.00 479.13 L350.50 479.06 L351.00 478.98 L351.50 478.90 L352.00 478.83 L352.50 478.75 L353.00 478.67 L353.50 478.59 L354.00 478.51 L354.50 478.43 L355.00 478.36 L355.50 478.28 L356.00 478.20 L356.50 478.13 L357.00 478.05 L357.50 477.98 L358.00 477.90 L358.50 477.83 L359.00 477.77 L359.50 477.71 L360.00 477.66 L360.50 477.61 L361.00 477.58 L361.50 477.56 L362.00 477.55 L362.50 477.55 L363.00 477.57 L363.50 477.60 L364.00 477.65 L364.50 477.70 L365.00 477.76 L365.50 477.82 L366.00 477.90 L366.50 477.97 L367.00 478.05 L367.50 478.13 L368.00 478.20 L368.50 478.28 L369.00 478.35 L369.50 478.42 L370.00 478.48 L370.50 478.53 L371.00 478.57 L371.50 478.61 L372.00 478.64 L372.50 478.67 L373.00 478.68 L373.50 478.68 L374.00 478.68 L374.50 478.66 L375.00 478.63 L375.50 478.59 L376.00 478.54 L376.40 478.49"/>
<path d="M376.40 478.49 L376.50 478.47 L377.00 478.40 L377.50 478.32 L378.00 478.23 L378.50 478.13 L379.00 478.03 L379.50 477.94 L380.00 477.84 L380.50 477.74 L381.00 477.65 L381.50 477.56 L382.00 477.48 L382.50 477.41 L383.00 477.35 L383.50 477.29 L384.00 477.24 L384.50 477.21 L385.00 477.18 L385.50 477.16 L386.00 477.15 L386.50 477.15 L387.00 477.17 L387.50 477.19 L388.00 477.22 L388.50 477.26 L389.00 477.31 L389.50 477.37 L390.00 477.42 L390.50 477.49 L391.00 477.55 L391.50 477.62 L392.00 477.69 L392.50 477.75 L393.00 477.82 L393.50 477.88 L394.00 477.94 L394.50 478.00 L395.00 478.05 L395.50 478.09 L396.00 478.13 L396.50 478.16 L397.00 478.19 L397.50 478.21 L398.00 478.22 L398.50 478.23 L399.00 478.24 L399.50 478.24 L400.00 478.24 L400.50 478.23 L401.00 478.22 L401.50 478.21 L402.00 478.19 L402.50 478.17 L403.00 478.15 L403.50 478.13 L404.00 478.10 L404.50 478.07 L405.00 478.04 L405.50 478.01 L406.00 477.98 L406.50 477.95 L407.00 477.92 L407.50 477.89 L408.00 477.86 L408.50 477.83 L409.00 477.80 L409.50 477.78 L410.00 477.75 L410.50 477.73 L411.00 477.71 L411.50 477.69 L412.00 477.67 L412.50 477.66 L413.00 477.65 L413.50 477.65 L414.00 477.65 L414.50 477.65 L415.00 477.66 L415.50 477.67 L416.00 477.68 L416.50 477.69 L417.00 477.71 L417.50 477.73 L418.00 477.75 L418.50 477.77 L419.00 477.79 L419.50 477.82 L420.00 477.84 L420.50 477.87 L421.00 477.89 L421.50 477.91 L422.00 477.93 L422.50 477.96 L423.00 477.98 L423.50 477.99 L424.00 478.01 L424.50 478.02 L425.00 478.04 L425.50 478.04 L426.00 478.05 L426.50 478.05 L427.00 478.05 L427.08 478.05"/>
<path d="M427.08 478.05 L427.50 478.04 L428.00 478.03 L428.50 478.02 L429.00 478.01 L429.50 477.99 L430.00 477.97 L430.50 477.95 L431.00 477.93 L431.50 477.90 L432.00 477.88 L432.50 477.85 L433.00 477.83 L433.50 477.80 L434.00 477.78 L434.50 477.75 L435.00 477.73 L435.50 477.71 L436.00 477.68 L436.50 477.66 L437.00 477.65 L437.50 477.63 L438.00 477.62 L438.50 477.61 L439.00 477.60 L439.50 477.59 L440.00 477.58 L440.50 477.58 L441.00 477.57 L441.50 477.57 L442.00 477.57 L442.50 477.57 L443.00 477.58 L443.50 477.58 L444.00 477.59 L444.50 477.59 L445.00 477.60 L445.50 477.61 L446.00 477.62 L446.50 477.63 L447.00 477.64 L447.50 477.65 L448.00 477.67 L448.50 477.68 L449.00 477.69 L449.50 477.71 L450.00 477.72 L450.50 477.74 L451.00 477.75 L451.50 477.77 L452.00 477.78 L452.50 477.80 L453.00 477.81 L453.50 477.83 L454.00 477.84 L454.50 477.86 L455.00 477.87 L455.50 477.89 L456.00 477.90 L456.50 477.91 L457.00 477.93 L457.50 477.94 L458.00 477.95 L458.50 477.96 L459.00 477.97 L459.50 477.98 L460.00 477.99 L460.50 478.00 L461.00 478.01 L461.50 478.02 L462.00 478.02 L462.50 478.03 L463.00 478.04 L463.50 478.04 L464.00 478.05 L464.50 478.05 L465.00 478.05 L465.50 478.05 L466.00 478.06 L466.50 478.06 L467.00 478.06 L467.50 478.06 L468.00 478.06 L468.50 478.05 L469.00 478.05 L469.50 478.05 L470.00 478.05 L470.50 478.04 L471.00 478.04 L471.50 478.03 L472.00 478.03 L472.50 478.03 L473.00 478.02 L473.50 478.02 L474.00 478.01 L474.50 478.01 L475.00 478.00 L475.50 477.99 L476.00 477.99 L476.50 477.98 L477.00 477.98 L477.50 477.97 L477.76 477.97"/>
<path d="M477.76 477.97 L478.00 477.97 L478.50 477.96 L479.00 477.96 L479.50 477.95 L480.00 477.95 L480.50 477.95 L481.00 477.94 L481.50 477.94 L482.00 477.94 L482.50 477.93 L483.00 477.93 L483.50 477.93 L484.00 477.93 L484.50 477.92 L485.00 477.92 L485.50 477.92 L486.00 477.92 L486.50 477.92 L487.00 477.92 L487.50 477.92 L488.00 477.92 L488.50 477.92 L489.00 477.92 L489.50 477.92 L490.00 477.92 L490.50 477.92 L491.00 477.92 L491.50 477.92 L492.00 477.92 L492.50 477.92 L493.00 477.92 L493.50 477.93 L494.00 477.93 L494.50 477.93 L495.00 477.93 L495.50 477.93 L496.00 477.93 L496.50 477.94 L497.00 477.94 L497.50 477.94 L498.00 477.94 L498.50 477.94 L499.00 477.95 L499.50 477.95 L500.00 477.95 L500.50 477.95 L501.00 477.95 L501.50 477.95 L502.00 477.95 L502.50 477.95 L503.00 477.95 L503.50 477.95 L504.00 477.95 L504.50 477.95 L505.00 477.95 L505.50 477.95 L506.00 477.95 L506.50 477.95 L507.00 477.95 L507.50 477.95 L508.00 477.95 L508.50 477.95 L509.00 477.95 L509.50 477.95 L510.00 477.95 L510.50 477.95 L511.00 477.95 L511.50 477.95 L512.00 477.95 L512.50 477.95 L513.00 477.95 L513.50 477.95 L514.00 477.95 L514.50 477.95 L515.00 477.95 L515.50 477.95 L516.00 477.95 L516.50 477.95 L517.00 477.95 L517.50 477.95 L518.00 477.95 L518.50 477.95 L519.00 477.95 L519.50 477.95 L520.00 477.95 L520.50 477.95 L521.00 477.95 L521.50 477.95 L522.00 477.95 L522.50 477.95 L523.00 477.95 L523.50 477.95 L524.00 477.95 L524.50 477.95 L525.00 477.95 L525.50 477.95 L526.00 477.95 L526.50 477.95 L527.00 477.95 L527.50 477.95 L528.00 477.95 L528.44 477.95"/>
<path d="M528.44 477.95 L528.50 477.95 L529.00 477.95 L529.50 477.95 L530.00 477.95 L530.50 477.95 L531.00 477.95 L531.50 477.95 L532.00 477.95 L532.50 477.95 L533.00 477.95 L533.50 477.95 L534.00 477.95 L534.50 477.95 L535.00 477.95 L535.50 477.95 L536.00 477.95 L536.50 477.95 L537.00 477.95 L537.50 477.95 L538.00 477.95 L538.50 477.95 L539.00 477.95 L539.50 477.95 L540.00 477.95 L540.50 477.95 L541.00 477.95 L541.50 477.95 L542.00 477.95 L542.50 477.95 L543.00 477.95 L543.50 477.95 L544.00 477.95 L544.50 477.95 L545.00 477.95 L545.50 477.95 L546.00 477.95 L546.50 477.95 L547.00 477.95 L547.50 477.95 L548.00 477.95 L548.50 477.95 L549.00 477.95 L549.50 477.95 L550.00 477.95 L550.50 477.95 L551.00 477.95 L551.50 477.95 L552.00 477.95 L552.50 477.95 L553.00 477.95 L553.50 477.95 L554.00 477.95 L554.50 477.95 L555.00 477.95 L555.50 477.95 L556.00 477.95 L556.50 477.95 L557.00 477.95 L557.50 477.95 L558.00 477.95 L558.50 477.95 L559.00 477.95 L559.50 477.95 L560.00 477.95 L560.50 477.95 L561.00 477.95 L561.50 477.95 L562.00 477.95 L562.50 477.95 L563.00 477.95 L563.50 477.95 L564.00 477.95 L564.50 477.95 L565.00 477.95 L565.50 477.95 L566.00 477.95 L566.50 477.95 L567.00 477.95 L567.50 477.95 L568.00 477.95 L568.50 477.95 L569.00 477.95 L569.50 477.95 L570.00 477.95 L570.50 477.95 L571.00 477.95 L571.50 477.95 L572.00 477.95 L572.50 477.95 L573.00 477.95 L573.50 477.95 L574.00 477.95 L574.50 477.95 L575.00 477.95 L575.50 477.95 L576.00 477.95 L576.50 477.95 L577.00 477.95 L577.50 477.95 L578.00 477.95 L578.50 477.95 L579.00 477.95 L579.12 477.95"/>
<path d="M579.12 477.95 L579.50 477.95 L580.00 477.95 L580.50 477.95 L581.00 477.95 L581.50 477.95 L582.00 477.95 L582.50 477.95 L583.00 477.95 L583.50 477.95 L584.00 477.95 L584.50 477.95 L585.00 477.95 L585.50 477.95 L586.00 477.95 L586.50 477.95 L587.00 477.95 L587.50 477.95 L588.00 477.95 L588.50 477.95 L589.00 477.95 L589.50 477.95 L590.00 477.95 L590.50 477.95 L591.00 477.95 L591.50 477.95 L592.00 477.95 L592.50 477.95 L593.00 477.95 L593.50 477.95 L594.00 477.95 L594.50 477.95 L595.00 477.95 L595.50 477.95 L596.00 477.95 L596.50 477.95 L597.00 477.95 L597.50 477.95 L598.00 477.95 L598.50 477.95 L599.00 477.95 L599.50 477.95 L600.00 477.95 L600.50 477.95 L601.00 477.95 L601.50 477.95 L602.00 477.95 L602.50 477.95 L603.00 477.95 L603.50 477.95 L604.00 477.95 L604.50 477.95 L605.00 477.95 L605.50 477.95 L606.00 477.95 L606.50 477.95 L607.00 477.95 L607.50 477.95 L608.00 477.95 L608.50 477.95 L609.00 477.95 L609.50 477.95 L610.00 477.95 L610.50 477.95 L611.00 477.95 L611.50 477.95 L612.00 477.95 L612.50 477.95 L613.00 477.95 L613.50 477.95 L614.00 477.95 L614.50 477.95 L615.00 477.95 L615.50 477.95 L616.00 477.95 L616.50 477.95 L617.00 477.95 L617.50 477.95 L618.00 477.95 L618.50 477.95 L619.00 477.95 L619.50 477.95 L620.00 477.95 L620.50 477.95 L621.00 477.95 L621.50 477.95 L622.00 477.95 L622.50 477.95 L623.00 477.95 L623.50 477.95 L624.00 477.95 L624.50 477.95 L625.00 477.95 L625.50 477.95 L626.00 477.95 L626.50 477.95 L627.00 477.95 L627.50 477.95 L628.00 477.95 L628.50 477.95 L629.00 477.95 L629.50 477.95 L629.80 477.95"/>
<path d="M629.80 477.95 L630.00 477.95 L630.50 477.95 L631.00 477.95 L631.50 477.95 L632.00 477.95 L632.50 477.95 L633.00 477.95 L633.50 477.95 L634.00 477.95 L634.50 477.95 L635.00 477.95 L635.50 477.95 L636.00 477.95 L636.50 477.95 L637.00 477.95 L637.50 477.95 L638.00 477.95 L638.50 477.95 L639.00 477.95 L639.50 477.95 L640.00 477.95 L640.50 477.95 L641.00 477.95 L641.50 477.95 L642.00 477.95 L642.50 477.95 L643.00 477.95 L643.50 477.95 L644.00 477.95 L644.50 477.95 L645.00 477.95 L645.50 477.95 L646.00 477.95 L646.50 477.95 L647.00 477.95 L647.50 477.95 L648.00 477.95 L648.50 477.95 L649.00 477.95 L649.50 477.95 L650.00 477.95 L650.50 477.95 L651.00 477.95 L651.50 477.95 L652.00 477.95 L652.50 477.95 L653.00 477.95 L653.50 477.95 L654.00 477.95 L654.50 477.95 L655.00 477.95 L655.50 477.95 L656.00 477.95 L656.50 477.95 L657.00 477.95 L657.50 477.95 L658.00 477.95 L658.50 477.95 L659.00 477.95 L659.50 477.95 L660.00 477.95 L660.50 477.95 L661.00 477.95 L661.50 477.95 L662.00 477.95 L662.50 477.95 L663.00 477.95 L663.50 477.95 L664.00 477.95 L664.50 477.95 L665.00 477.95 L665.50 477.95 L666.00 477.95 L666.50 477.95 L667.00 477.95 L667.50 477.95 L668.00 477.95 L668.50 477.95 L669.00 477.95 L669.50 477.95 L670.00 477.95 L670.50 477.95 L671.00 477.95 L671.50 477.95 L672.00 477.95 L672.50 477.95 L673.00 477.95 L673.50 477.95 L674.00 477.95 L674.50 477.95 L675.00 477.95 L675.50 477.95 L676.00 477.95 L676.50 477.95 L677.00 477.95 L677.50 477.95 L678.00 477.95 L678.50 477.95 L679.00 477.95 L679.50 477.95 L680.00 477.95 L680.48 477.95"/>
<path d="M680.48 477.95 L680.50 477.95 L681.00 477.95 L681.50 477.95 L682.00 477.95 L682.50 477.95 L683.00 477.95 L683.50 477.95 L684.00 477.95 L684.50 477.95 L685.00 477.95 L685.50 477.95 L686.00 477.95 L686.50 477.95 L687.00 477.95 L687.50 477.95 L688.00 477.95 L688.50 477.95 L689.00 477.95 L689.50 477.95 L690.00 477.95 L690.50 477.95 L691.00 477.95 L691.50 477.95 L692.00 477.95 L692.50 477.95 L693.00 477.95 L693.50 477.95 L694.00 477.95 L694.50 477.95 L695.00 477.95 L695.50 477.95 L696.00 477.95 L696.50 477.95 L697.00 477.95 L697.50 477.95 L698.00 477.95 L698.50 477.95 L699.00 477.95 L699.50 477.95 L700.00 477.95 L700.50 477.95 L701.00 477.95 L701.50 477.95 L702.00 477.95 L702.50 477.95 L703.00 477.95 L703.50 477.95 L704.00 477.95 L704.50 477.95 L705.00 477.95 L705.50 477.95 L706.00 477.95 L706.50 477.95 L707.00 477.95 L707.50 477.95 L708.00 477.95 L708.50 477.95 L709.00 477.95 L709.50 477.95 L710.00 477.95 L710.50 477.95 L711.00 477.95 L711.50 477.95 L712.00 477.95 L712.50 477.95 L713.00 477.95 L713.50 477.95 L714.00 477.95 L714.50 477.95 L715.00 477.95 L715.50 477.95 L716.00 477.95 L716.50 477.95 L717.00 477.95 L717.50 477.95 L718.00 477.95 L718.50 477.95 L719.00 477.95 L719.50 477.95 L720.00 477.95 L720.50 477.95 L721.00 477.95 L721.50 477.95 L722.00 477.95 L722.50 477.95 L723.00 477.95 L723.50 477.95 L724.00 477.95 L724.50 477.95 L725.00 477.95 L725.50 477.95 L726.00 477.95 L726.50 477.95 L727.00 477.95 L727.50 477.95 L728.00 477.95 L728.50 477.95 L729.00 477.95 L729.50 477.95 L730.00 477.95 L730.50 477.95 L731.00 477.95 L731.16 477.95"/>
<path d="M731.16 477.95 L731.50 477.95 L732.00 477.95 L732.50 477.95 L733.00 477.95 L733.50 477.95 L734.00 477.95 L734.50 477.95 L735.00 477.95 L735.50 477.95 L736.00 477.95 L736.50 477.95 L737.00 477.95 L737.50 477.95 L738.00 477.95 L738.50 477.95 L739.00 477.95 L739.50 477.95 L740.00 477.95 L740.50 477.95 L741.00 477.95 L741.50 477.95 L742.00 477.95 L742.50 477.95 L743.00 477.95 L743.50 477.95 L744.00 477.95 L744.50 477.95 L745.00 477.95 L745.50 477.95 L746.00 477.95 L746.50 477.95 L747.00 477.95 L747.50 477.95 L748.00 477.95 L748.50 477.95 L749.00 477.95 L749.50 477.95 L750.00 477.95 L750.50 477.95 L751.00 477.95 L751.50 477.95 L752.00 477.95 L752.50 477.95 L753.00 477.95 L753.50 477.95 L754.00 477.95 L754.50 477.95 L755.00 477.95 L755.50 477.95 L756.00 477.95 L756.50 477.95 L757.00 477.95 L757.50 477.95 L758.00 477.95 L758.50 477.95 L759.00 477.95 L759.50 477.95 L760.00 477.95 L760.50 477.95 L761.00 477.95 L761.50 477.95 L762.00 477.95 L762.50 477.95 L763.00 477.95 L763.50 477.95 L764.00 477.95 L764.50 477.95 L765.00 477.95 L765.50 477.95 L766.00 477.95 L766.50 477.95 L767.00 477.95 L767.50 477.95 L768.00 477.95 L768.50 477.95 L769.00 477.95 L769.50 477.95 L770.00 477.95 L770.50 477.95 L771.00 477.95 L771.50 477.95 L772.00 477.95 L772.50 477.95 L773.00 477.95 L773.50 477.95 L774.00 477.95 L774.50 477.95 L775.00 477.95 L775.50 477.95 L776.00 477.95 L776.50 477.95 L777.00 477.95 L777.50 477.95 L778.00 477.95 L778.50 477.95 L779.00 477.95 L779.50 477.95 L780.00 477.95 L780.50 477.95 L781.00 477.95 L781.50 477.95 L781.84 477.95"/>
<path d="M781.84 477.95 L782.00 477.95 L782.50 477.95 L783.00 477.95 L783.50 477.95 L784.00 477.95 L784.50 477.95 L785.00 477.95 L785.50 477.95 L786.00 477.95 L786.50 477.95 L787.00 477.95 L787.50 477.95 L788.00 477.95 L788.50 477.95 L789.00 477.95 L789.50 477.95 L790.00 477.95 L790.50 477.95 L791.00 477.95 L791.50 477.95 L792.00 477.95 L792.50 477.95 L793.00 477.95 L793.50 477.95 L794.00 477.95 L794.50 477.95 L795.00 477.95 L795.50 477.95 L796.00 477.95 L796.50 477.95 L797.00 477.95 L797.50 477.95 L798.00 477.95 L798.50 477.95 L799.00 477.95 L799.50 477.95 L800.00 477.95 L800.50 477.95 L801.00 477.95 L801.50 477.95 L802.00 477.95 L802.50 477.95 L803.00 477.95 L803.50 477.95 L804.00 477.95 L804.50 477.95 L805.00 477.95 L805.50 477.95 L806.00 477.95 L806.50 477.95 L807.00 477.95 L807.50 477.95 L808.00 477.95 L808.50 477.95 L809.00 477.95 L809.50 477.95 L810.00 477.95 L810.50 477.95 L811.00 477.95 L811.50 477.95 L812.00 477.95 L812.50 477.95 L813.00 477.95 L813.50 477.95 L814.00 477.95 L814.50 477.95 L815.00 477.95 L815.50 477.95 L816.00 477.95 L816.50 477.95 L817.00 477.95 L817.50 477.95 L818.00 477.95 L818.50 477.95 L819.00 477.95 L819.50 477.95 L820.00 477.95 L820.50 477.95 L821.00 477.95 L821.50 477.95 L822.00 477.95 L822.50 477.95 L823.00 477.95 L823.50 477.95 L824.00 477.95 L824.50 477.95 L825.00 477.95 L825.50 477.95 L826.00 477.95 L826.50 477.95 L827.00 477.95 L827.50 477.95 L828.00 477.95 L828.50 477.95 L829.00 477.95 L829.50 477.95 L830.00 477.95 L830.50 477.95 L831.00 477.95 L831.50 477.95 L832.00 477.95 L832.50 477.95 L832.52 477.95"/>
<path d="M832.52 477.95 L833.00 477.95 L833.50 477.95 L834.00 477.95 L834.50 477.95 L835.00 477.95 L835.50 477.95 L836.00 477.95 L836.50 477.95 L837.00 477.95 L837.50 477.95 L838.00 477.95 L838.50 477.95 L839.00 477.95 L839.50 477.95 L840.00 477.95 L840.50 477.95 L841.00 477.95 L841.50 477.95 L842.00 477.95 L842.50 477.95 L843.00 477.95 L843.50 477.95 L844.00 477.95 L844.50 477.95 L845.00 477.95 L845.50 477.95 L846.00 477.95 L846.50 477.95 L847.00 477.95 L847.50 477.95 L848.00 477.95 L848.50 477.95 L849.00 477.95 L849.50 477.95 L850.00 477.95 L850.50 477.95 L851.00 477.95 L851.50 477.95 L852.00 477.95 L852.50 477.95 L853.00 477.95 L853.50 477.95 L854.00 477.95 L854.50 477.95 L855.00 477.95 L855.50 477.95 L856.00 477.95 L856.50 477.95 L857.00 477.95 L857.50 477.95 L858.00 477.95 L858.50 477.95 L859.00 477.95 L859.50 477.95 L860.00 477.95 L860.50 477.95 L861.00 477.95 L861.50 477.95 L862.00 477.95 L862.50 477.95 L863.00 477.95 L863.50 477.95 L864.00 477.95 L864.50 477.95 L865.00 477.95 L865.50 477.95 L866.00 477.95 L866.50 477.95 L867.00 477.95 L867.50 477.95 L868.00 477.95 L868.50 477.95 L869.00 477.95 L869.50 477.95 L870.00 477.95 L870.50 477.95 L871.00 477.95 L871.50 477.95 L872.00 477.95 L872.50 477.95 L873.00 477.95 L873.50 477.95 L874.00 477.95 L874.50 477.95 L875.00 477.95 L875.50 477.95 L876.00 477.95 L876.50 477.95 L877.00 477.95 L877.50 477.95 L878.00 477.95 L878.50 477.95 L879.00 477.95 L879.50 477.95 L880.00 477.95 L880.50 477.95 L881.00 477.95 L881.50 477.95 L882.00 477.95 L882.50 477.95 L883.00 477.95 L883.20 477.95"/>
<path d="M883.20 477.95 L883.50 477.95 L884.00 477.95 L884.50 477.95 L885.00 477.95 L885.50 477.95 L886.00 477.95 L886.50 477.95 L887.00 477.95 L887.50 477.95 L888.00 477.95 L888.50 477.95 L889.00 477.95 L889.50 477.95 L890.00 477.95 L890.50 477.95 L891.00 477.95 L891.50 477.95 L892.00 477.95 L892.50 477.95 L893.00 477.95 L893.50 477.95 L894.00 477.95 L894.50 477.95 L895.00 477.95 L895.50 477.95 L896.00 477.95 L896.50 477.95 L897.00 477.95 L897.50 477.95 L898.00 477.95 L898.50 477.95 L899.00 477.95 L899.50 477.95 L900.00 477.95 L900.50 477.95 L901.00 477.95 L901.50 477.95 L902.00 477.95 L902.50 477.95 L903.00 477.95 L903.50 477.95 L904.00 477.95 L904.50 477.95 L905.00 477.95 L905.50 477.95 L906.00 477.95 L906.50 477.95 L907.00 477.95 L907.50 477.95 L908.00 477.95 L908.50 477.95 L909.00 477.95 L909.50 477.95 L910.00 477.95 L910.50 477.95 L911.00 477.95 L911.50 477.95 L912.00 477.95 L912.50 477.95 L913.00 477.95 L913.50 477.95 L914.00 477.95 L914.50 477.95 L915.00 477.95 L915.50 477.95 L916.00 477.95 L916.50 477.95 L917.00 477.95 L917.50 477.95 L918.00 477.95 L918.50 477.95 L919.00 477.95 L919.50 477.95 L920.00 477.95 L920.50 477.95 L921.00 477.95 L921.50 477.95 L922.00 477.95 L922.50 477.95 L923.00 477.95 L923.50 477.95 L924.00 477.95 L924.50 477.95 L925.00 477.95 L925.50 477.95 L926.00 477.95 L926.50 477.95 L927.00 477.95 L927.50 477.95 L928.00 477.95 L928.50 477.95 L929.00 477.95 L929.50 477.95 L930.00 477.95 L930.50 477.95 L931.00 477.95 L931.50 477.95 L932.00 477.95 L932.50 477.95 L933.00 477.95 L933.50 477.95 L933.88 477.95"/>
<path d="M933.88 477.95 L934.00 477.95 L934.50 477.95 L935.00 477.95 L935.50 477.95 L936.00 477.95 L936.50 477.95 L937.00 477.95"/>
</g>
<g fill="none" stroke="#0000ff" stroke-width="3.25" stroke-linejoin="round" stroke-dasharray="5.57 8.08">
<path d="M123.00 540.80 L123.50 540.76 L124.00 540.64 L124.50 540.46 L125.00 540.22 L125.50 539.92 L126.00 539.56 L126.50 539.11 L127.00 538.60 L127.50 538.03 L128.00 537.40 L128.50 536.73 L129.00 536.01 L129.50 535.21 L130.00 534.31 L130.50 533.29 L131.00 532.18 L131.50 531.03 L132.00 529.88 L132.50 528.76 L133.00 527.70 L133.50 526.69 L134.00 525.71 L134.50 524.76 L135.00 523.83 L135.50 522.90 L136.00 522.00 L136.50 521.14 L137.00 520.31 L137.50 519.55 L138.00 518.84 L138.50 518.19 L139.00 517.61 L139.50 517.10 L140.00 516.66 L140.50 516.27 L141.00 515.91 L141.50 515.56 L142.00 515.20 L142.50 514.82 L143.00 514.41 L143.50 513.98 L144.00 513.54 L144.50 513.10 L145.00 512.65 L145.50 512.20 L146.00 511.72 L146.50 511.23 L147.00 510.70 L147.50 510.13 L148.00 509.52 L148.50 508.87 L149.00 508.15 L149.50 507.39 L150.00 506.56 L150.50 505.68 L151.00 504.76 L151.50 503.80 L152.00 502.81 L152.50 501.79 L153.00 500.75 L153.50 499.71 L154.00 498.66 L154.50 497.62 L155.00 496.60 L155.50 495.60 L156.00 494.64 L156.50 493.70 L157.00 492.80 L157.50 491.92 L158.00 491.07 L158.50 490.24 L159.00 489.44 L159.50 488.65 L160.00 487.89 L160.50 487.15 L161.00 486.42 L161.50 485.71 L162.00 485.02 L162.50 484.34 L163.00 483.67 L163.50 483.01 L164.00 482.35 L164.50 481.70 L165.00 481.06 L165.50 480.41 L166.00 479.76 L166.50 479.10 L167.00 478.44 L167.50 477.76 L168.00 477.07 L168.50 476.37 L169.00 475.64 L169.50 474.90 L170.00 474.13 L170.50 473.34 L171.00 472.54 L171.50 471.71 L172.00 470.86 L172.50 470.00 L173.00 469.13 L173.50 468.24 L173.68 467.91"/>
<path d="M173.68 467.91 L174.00 467.34 L174.50 466.42 L175.00 465.50 L175.50 464.57 L176.00 463.63 L176.50 462.69 L177.00 461.74 L177.50 460.80 L178.00 459.86 L178.50 458.93 L179.00 458.01 L179.50 457.10 L180.00 456.21 L180.50 455.33 L181.00 454.47 L181.50 453.63 L182.00 452.82 L182.50 452.03 L183.00 451.26 L183.50 450.50 L184.00 449.76 L184.50 449.02 L185.00 448.29 L185.50 447.57 L186.00 446.84 L186.50 446.12 L187.00 445.39 L187.50 444.65 L188.00 443.90 L188.50 443.13 L189.00 442.35 L189.50 441.55 L190.00 440.74 L190.50 439.92 L191.00 439.08 L191.50 438.23 L192.00 437.38 L192.50 436.51 L193.00 435.65 L193.50 434.77 L194.00 433.90 L194.50 433.02 L195.00 432.15 L195.50 431.27 L196.00 430.41 L196.50 429.54 L197.00 428.68 L197.50 427.83 L198.00 426.98 L198.50 426.14 L199.00 425.30 L199.50 424.48 L200.00 423.66 L200.50 422.85 L201.00 422.05 L201.50 421.25 L202.00 420.47 L202.50 419.70 L203.00 418.94 L203.50 418.19 L204.00 417.45 L204.50 416.71 L205.00 415.99 L205.50 415.27 L206.00 414.55 L206.50 413.84 L207.00 413.14 L207.50 412.43 L208.00 411.73 L208.50 411.03 L209.00 410.32 L209.50 409.62 L210.00 408.91 L210.50 408.20 L211.00 407.49 L211.50 406.77 L212.00 406.04 L212.50 405.32 L213.00 404.59 L213.50 403.86 L214.00 403.12 L214.50 402.39 L215.00 401.65 L215.50 400.91 L216.00 400.17 L216.50 399.43 L217.00 398.69 L217.50 397.95 L218.00 397.20 L218.50 396.46 L219.00 395.72 L219.50 394.98 L220.00 394.24 L220.50 393.51 L221.00 392.78 L221.50 392.05 L222.00 391.32 L222.50 390.60 L223.00 389.88 L223.50 389.16 L224.00 388.46 L224.36 387.95"/>
<path d="M224.36 387.95 L224.50 387.75 L225.00 387.05 L225.50 386.36 L226.00 385.68 L226.50 385.00 L227.00 384.33 L227.50 383.66 L228.00 383.00 L228.50 382.35 L229.00 381.70 L229.50 381.06 L230.00 380.43 L230.50 379.80 L231.00 379.18 L231.50 378.56 L232.00 377.95 L232.50 377.35 L233.00 376.76 L233.50 376.17 L234.00 375.58 L234.50 375.01 L235.00 374.44 L235.50 373.87 L236.00 373.31 L236.50 372.76 L237.00 372.21 L237.50 371.66 L238.00 371.12 L238.50 370.58 L239.00 370.05 L239.50 369.52 L240.00 369.00 L240.50 368.47 L241.00 367.95 L241.50 367.44 L242.00 366.92 L242.50 366.41 L243.00 365.90 L243.50 365.39 L244.00 364.89 L244.50 364.38 L245.00 363.88 L245.50 363.39 L246.00 362.89 L246.50 362.40 L247.00 361.92 L247.50 361.44 L248.00 360.97 L248.50 360.50 L249.00 360.04 L249.50 359.58 L250.00 359.14 L250.50 358.70 L251.00 358.27 L251.50 357.85 L252.00 357.44 L252.50 357.04 L253.00 356.64 L253.50 356.26 L254.00 355.89 L254.50 355.53 L255.00 355.18 L255.50 354.84 L256.00 354.51 L256.50 354.19 L257.00 353.88 L257.50 353.58 L258.00 353.29 L258.50 353.00 L259.00 352.73 L259.50 352.46 L260.00 352.21 L260.50 351.96 L261.00 351.73 L261.50 351.50 L262.00 351.28 L262.50 351.06 L263.00 350.86 L263.50 350.67 L264.00 350.48 L264.50 350.30 L265.00 350.13 L265.50 349.97 L266.00 349.81 L266.50 349.66 L267.00 349.52 L267.50 349.39 L268.00 349.26 L268.50 349.14 L269.00 349.02 L269.50 348.91 L270.00 348.81 L270.50 348.72 L271.00 348.62 L271.50 348.54 L272.00 348.46 L272.50 348.38 L273.00 348.31 L273.50 348.25 L274.00 348.19 L274.50 348.13 L275.00 348.08 L275.04 348.07"/>
<path d="M275.04 348.07 L275.50 348.03 L276.00 347.98 L276.50 347.94 L277.00 347.90 L277.50 347.86 L278.00 347.83 L278.50 347.81 L279.00 347.79 L279.50 347.78 L280.00 347.78 L280.50 347.79 L281.00 347.81 L281.50 347.85 L282.00 347.90 L282.50 347.97 L283.00 348.06 L283.50 348.16 L284.00 348.29 L284.50 348.43 L285.00 348.60 L285.50 348.79 L286.00 348.99 L286.50 349.19 L287.00 349.38 L287.50 349.54 L288.00 349.67 L288.50 349.74 L289.00 349.75 L289.50 349.68 L290.00 349.53 L290.50 349.28 L291.00 348.95 L291.50 348.53 L292.00 348.04 L292.50 347.49 L293.00 346.88 L293.50 346.21 L294.00 345.50 L294.50 344.74 L295.00 343.96 L295.50 343.16 L296.00 342.36 L296.50 341.56 L297.00 340.79 L297.50 340.05 L298.00 339.35 L298.50 338.72 L299.00 338.15 L299.50 337.66 L300.00 337.22 L300.50 336.84 L301.00 336.51 L301.50 336.21 L302.00 335.95 L302.50 335.72 L303.00 335.50 L303.50 335.30 L304.00 335.10 L304.50 334.91 L305.00 334.72 L305.50 334.52 L306.00 334.32 L306.50 334.11 L307.00 333.89 L307.50 333.66 L308.00 333.42 L308.50 333.16 L309.00 332.88 L309.50 332.58 L310.00 332.25 L310.50 331.90 L311.00 331.53 L311.50 331.14 L312.00 330.73 L312.50 330.29 L313.00 329.83 L313.50 329.35 L314.00 328.85 L314.50 328.32 L315.00 327.78 L315.50 327.22 L316.00 326.64 L316.50 326.06 L317.00 325.49 L317.50 324.91 L318.00 324.35 L318.50 323.81 L319.00 323.30 L319.50 322.81 L320.00 322.36 L320.50 321.94 L321.00 321.55 L321.50 321.18 L322.00 320.84 L322.50 320.52 L323.00 320.21 L323.50 319.92 L324.00 319.64 L324.50 319.37 L325.00 319.11 L325.50 318.86 L325.72 318.74"/>
<path d="M325.72 318.74 L326.00 318.60 L326.50 318.34 L327.00 318.08 L327.50 317.81 L328.00 317.53 L328.50 317.24 L329.00 316.94 L329.50 316.63 L330.00 316.31 L330.50 315.99 L331.00 315.65 L331.50 315.30 L332.00 314.94 L332.50 314.58 L333.00 314.20 L333.50 313.82 L334.00 313.43 L334.50 313.03 L335.00 312.63 L335.50 312.22 L336.00 311.80 L336.50 311.37 L337.00 310.94 L337.50 310.50 L338.00 310.05 L338.50 309.60 L339.00 309.14 L339.50 308.68 L340.00 308.22 L340.50 307.75 L341.00 307.28 L341.50 306.81 L342.00 306.34 L342.50 305.87 L343.00 305.40 L343.50 304.94 L344.00 304.48 L344.50 304.02 L345.00 303.58 L345.50 303.14 L346.00 302.70 L346.50 302.28 L347.00 301.87 L347.50 301.47 L348.00 301.08 L348.50 300.70 L349.00 300.34 L349.50 299.99 L350.00 299.65 L350.50 299.32 L351.00 299.00 L351.50 298.69 L352.00 298.39 L352.50 298.09 L353.00 297.79 L353.50 297.50 L354.00 297.20 L354.50 296.91 L355.00 296.62 L355.50 296.32 L356.00 296.02 L356.50 295.71 L357.00 295.40 L357.50 295.08 L358.00 294.74 L358.50 294.40 L359.00 294.05 L359.50 293.68 L360.00 293.30 L360.50 292.90 L361.00 292.49 L361.50 292.07 L362.00 291.63 L362.50 291.19 L363.00 290.74 L363.50 290.28 L364.00 289.82 L364.50 289.35 L365.00 288.88 L365.50 288.42 L366.00 287.96 L366.50 287.50 L367.00 287.05 L367.50 286.60 L368.00 286.17 L368.50 285.74 L369.00 285.33 L369.50 284.93 L370.00 284.55 L370.50 284.18 L371.00 283.83 L371.50 283.49 L372.00 283.16 L372.50 282.84 L373.00 282.52 L373.50 282.20 L374.00 281.89 L374.50 281.58 L375.00 281.26 L375.50 280.94 L376.00 280.62 L376.40 280.35"/>
<path d="M376.40 280.35 L376.50 280.28 L377.00 279.93 L377.50 279.57 L378.00 279.20 L378.50 278.81 L379.00 278.40 L379.50 277.98 L380.00 277.55 L380.50 277.10 L381.00 276.65 L381.50 276.18 L382.00 275.71 L382.50 275.24 L383.00 274.76 L383.50 274.28 L384.00 273.80 L384.50 273.32 L385.00 272.84 L385.50 272.36 L386.00 271.90 L386.50 271.43 L387.00 270.98 L387.50 270.53 L388.00 270.10 L388.50 269.68 L389.00 269.27 L389.50 268.87 L390.00 268.48 L390.50 268.10 L391.00 267.73 L391.50 267.37 L392.00 267.01 L392.50 266.66 L393.00 266.31 L393.50 265.96 L394.00 265.62 L394.50 265.28 L395.00 264.94 L395.50 264.60 L396.00 264.26 L396.50 263.92 L397.00 263.58 L397.50 263.23 L398.00 262.87 L398.50 262.51 L399.00 262.15 L399.50 261.78 L400.00 261.39 L400.50 261.01 L401.00 260.61 L401.50 260.21 L402.00 259.80 L402.50 259.39 L403.00 258.97 L403.50 258.55 L404.00 258.12 L404.50 257.69 L405.00 257.26 L405.50 256.82 L406.00 256.38 L406.50 255.94 L407.00 255.49 L407.50 255.05 L408.00 254.60 L408.50 254.15 L409.00 253.70 L409.50 253.31 L410.00 252.93 L410.50 252.54 L411.00 252.15 L411.50 251.77 L412.00 251.38 L412.50 250.99 L413.00 250.61 L413.50 250.22 L414.00 249.83 L414.50 249.44 L415.00 249.06 L415.50 248.67 L416.00 248.28 L416.50 247.90 L417.00 247.51 L417.50 247.12 L418.00 246.74 L418.50 246.35 L419.00 245.96 L419.50 245.58 L420.00 245.19 L420.50 244.80 L421.00 244.42 L421.50 244.03 L422.00 243.64 L422.50 243.26 L423.00 242.87 L423.50 242.48 L424.00 242.10 L424.50 241.71 L425.00 241.32 L425.50 240.93 L426.00 240.55 L426.50 240.16 L427.00 239.77 L427.08 239.71"/>
<path d="M427.08 239.71 L427.50 239.39 L428.00 239.00 L428.50 238.61 L429.00 238.23 L429.50 237.84 L430.00 237.45 L430.50 237.07 L431.00 236.68 L431.50 236.29 L432.00 235.91 L432.50 235.52 L433.00 235.13 L433.50 234.75 L434.00 234.36 L434.50 233.97 L435.00 233.58 L435.50 233.20 L436.00 232.81 L436.50 232.42 L437.00 232.04 L437.50 231.65 L438.00 231.26 L438.50 230.88 L439.00 230.49 L439.50 230.10 L440.00 229.72 L440.50 229.33 L441.00 228.94 L441.50 228.56 L442.00 228.17 L442.50 227.78 L443.00 227.40 L443.50 227.01 L444.00 226.62 L444.50 226.24 L445.00 225.85 L445.50 225.46 L446.00 225.07 L446.50 224.69 L447.00 224.30 L447.50 223.91 L448.00 223.53 L448.50 223.14 L449.00 222.75 L449.50 222.37 L450.00 221.98 L450.50 221.59 L451.00 221.21 L451.50 220.82 L452.00 220.43 L452.50 220.05 L453.00 219.66 L453.50 219.27 L454.00 218.89 L454.50 218.50 L455.00 218.11 L455.50 217.72 L456.00 217.34 L456.50 216.95 L457.00 216.56 L457.50 216.18 L458.00 215.79 L458.50 215.40 L459.00 215.02 L459.50 214.63 L460.00 214.24 L460.50 213.86 L461.00 213.47 L461.50 213.08 L462.00 212.70 L462.50 212.31 L463.00 211.92 L463.50 211.54 L464.00 211.15 L464.50 210.76 L465.00 210.38 L465.50 209.99 L466.00 209.60 L466.50 209.21 L467.00 208.83 L467.50 208.44 L468.00 208.05 L468.50 207.67 L469.00 207.28 L469.50 206.89 L470.00 206.51 L470.50 206.12 L471.00 205.73 L471.50 205.35 L472.00 204.96 L472.50 204.57 L473.00 204.19 L473.50 203.80 L474.00 203.41 L474.50 203.03 L475.00 202.64 L475.50 202.25 L476.00 201.86 L476.50 201.48 L477.00 201.09 L477.50 200.70 L477.76 200.50"/>
<path d="M477.76 200.50 L478.00 200.32 L478.50 199.93 L479.00 199.54 L479.50 199.16 L480.00 198.77 L480.50 198.38 L481.00 198.00 L481.50 197.61 L482.00 197.22 L482.50 196.84 L483.00 196.45 L483.50 196.06 L484.00 195.68 L484.50 195.29 L485.00 194.90 L485.50 194.52 L486.00 194.13 L486.50 193.74 L487.00 193.35 L487.50 192.97 L488.00 192.58 L488.50 192.19 L489.00 191.81 L489.50 191.42 L490.00 191.03 L490.50 190.65 L491.00 190.26 L491.50 189.87 L492.00 189.49 L492.50 189.10 L493.00 188.71 L493.50 188.33 L494.00 187.94 L494.50 187.55 L495.00 187.17 L495.50 186.78 L496.00 186.39 L496.50 186.00 L497.00 185.62 L497.50 185.23 L498.00 184.84 L498.50 184.46 L499.00 184.07 L499.50 183.68 L500.00 183.30 L500.50 182.91 L501.00 182.52 L501.50 182.14 L502.00 181.75 L502.50 181.36 L503.00 180.98 L503.50 180.59 L504.00 180.20 L504.50 179.82 L505.00 179.43 L505.50 179.04 L506.00 178.66 L506.50 178.27 L507.00 177.88 L507.50 177.49 L508.00 177.11 L508.50 176.72 L509.00 176.33 L509.50 175.95 L510.00 175.56 L510.50 175.17 L511.00 174.79 L511.50 174.40 L512.00 174.01 L512.50 173.63 L513.00 173.24 L513.50 172.85 L514.00 172.47 L514.50 172.08 L515.00 171.69 L515.50 171.31 L516.00 170.92 L516.50 170.53 L517.00 170.14 L517.50 169.76 L518.00 169.37 L518.50 168.98 L519.00 168.60 L519.50 168.21 L520.00 167.82 L520.50 167.44 L521.00 167.05 L521.50 166.66 L522.00 166.28 L522.50 165.89 L523.00 165.50 L523.50 165.12 L524.00 164.73 L524.50 164.34 L525.00 163.96 L525.50 163.57 L526.00 163.18 L526.50 162.80 L527.00 162.41 L527.50 162.02 L528.00 161.63 L528.44 161.29"/>
<path d="M528.44 161.29 L528.50 161.25 L529.00 160.86 L529.50 160.47 L530.00 160.09 L530.50 159.70 L531.00 159.31 L531.50 158.93 L532.00 158.54 L532.50 158.15 L533.00 157.77 L533.50 157.38 L534.00 156.99 L534.50 156.61 L535.00 156.22 L535.50 155.83 L536.00 155.45 L536.50 155.06 L537.00 154.67 L537.50 154.28 L538.00 153.90 L538.50 153.51 L539.00 153.12 L539.50 152.74 L540.00 152.35 L540.50 151.96 L541.00 151.58 L541.50 151.19 L542.00 150.80 L542.50 150.42 L543.00 150.03 L543.50 149.64 L544.00 149.26 L544.50 148.87 L545.00 148.48 L545.50 148.10 L546.00 147.71 L546.50 147.32 L547.00 146.94 L547.50 146.55 L548.00 146.16 L548.50 145.77 L549.00 145.39 L549.50 145.00 L550.00 144.61 L550.50 144.23 L551.00 143.84 L551.50 143.45 L552.00 143.07 L552.50 142.68 L553.00 142.29 L553.50 141.91 L554.00 141.52 L554.50 141.13 L555.00 140.75 L555.50 140.36 L556.00 139.97 L556.50 139.59 L557.00 139.20 L557.50 138.81 L558.00 138.42 L558.50 138.04 L559.00 137.65 L559.50 137.26 L560.00 136.88 L560.50 136.49 L561.00 136.10 L561.50 135.72 L562.00 135.33 L562.50 134.94 L563.00 134.56 L563.50 134.17 L564.00 133.78 L564.50 133.40 L565.00 133.01 L565.50 132.62 L566.00 132.24 L566.50 131.85 L567.00 131.46 L567.50 131.08 L568.00 130.69 L568.50 130.30 L569.00 129.91 L569.50 129.53 L570.00 129.14 L570.50 128.75 L571.00 128.37 L571.50 127.98 L572.00 127.59 L572.50 127.21 L573.00 126.82 L573.50 126.43 L574.00 126.05 L574.50 125.66 L575.00 125.27 L575.50 124.89 L576.00 124.50 L576.50 124.11 L577.00 123.73 L577.50 123.34 L578.00 122.95 L578.50 122.56 L579.00 122.18 L579.12 122.09"/>
<path d="M579.12 122.09 L579.50 121.79 L580.00 121.40 L580.50 121.02 L581.00 120.63 L581.50 120.24 L582.00 119.86 L582.50 119.47 L583.00 119.08 L583.50 118.70 L584.00 118.31 L584.50 117.92 L585.00 117.54 L585.50 117.15 L586.00 116.76 L586.50 116.38 L587.00 115.99 L587.50 115.60 L588.00 115.22 L588.50 114.83 L589.00 114.44 L589.50 114.05 L590.00 113.67 L590.50 113.28 L591.00 112.89 L591.50 112.51 L592.00 112.12 L592.50 111.73 L593.00 111.35 L593.50 110.96 L594.00 110.57 L594.50 110.19 L595.00 109.80 L595.50 109.41 L596.00 109.03 L596.50 108.64 L597.00 108.25 L597.50 107.87 L598.00 107.48 L598.50 107.09 L599.00 106.70 L599.50 106.32 L600.00 105.93 L600.50 105.54 L601.00 105.16 L601.50 104.77 L602.00 104.38 L602.50 104.00 L603.00 103.61 L603.50 103.22 L604.00 102.84 L604.50 102.45 L605.00 102.06 L605.50 101.68 L606.00 101.29 L606.50 100.90 L607.00 100.52 L607.50 100.13 L608.00 99.74 L608.50 99.36 L609.00 98.97 L609.50 98.58 L610.00 98.19 L610.50 97.81 L611.00 97.42 L611.50 97.03 L612.00 96.65 L612.50 96.26 L613.00 95.87 L613.50 95.49 L614.00 95.10 L614.50 94.71 L615.00 94.33 L615.50 93.94 L616.00 93.55 L616.50 93.17 L617.00 92.78 L617.50 92.39 L618.00 92.01 L618.50 91.62 L619.00 91.23 L619.50 90.84 L620.00 90.46 L620.50 90.07 L621.00 89.68 L621.50 89.30 L622.00 88.91 L622.50 88.52 L623.00 88.14 L623.50 87.75 L624.00 87.36 L624.50 86.98 L625.00 86.59 L625.50 86.20 L626.00 85.82 L626.50 85.43 L627.00 85.04 L627.50 84.66 L628.00 84.27 L628.50 83.88 L629.00 83.50 L629.50 83.11 L629.80 82.88"/>
<path d="M629.80 82.88 L630.00 82.72 L630.50 82.33 L631.00 81.95 L631.50 81.56 L632.00 81.17 L632.50 80.79 L633.00 80.40 L633.50 80.01 L634.00 79.63 L634.50 79.24 L635.00 78.85 L635.50 78.47 L636.00 78.08 L636.50 77.69 L637.00 77.31 L637.50 76.92 L638.00 76.53 L638.50 76.15 L639.00 75.76 L639.50 75.37 L640.00 74.98 L640.50 74.60 L641.00 74.21 L641.50 73.82 L642.00 73.44 L642.50 73.05 L643.00 72.66 L643.50 72.28 L644.00 71.89 L644.50 71.50 L645.00 71.12 L645.50 70.73 L646.00 70.34 L646.50 69.96 L647.00 69.57 L647.50 69.18 L648.00 68.80 L648.50 68.41 L649.00 68.02 L649.50 67.64 L650.00 67.25 L650.50 66.86 L651.00 66.47 L651.50 66.09 L652.00 65.70 L652.50 65.31 L653.00 64.93 L653.50 64.54 L654.00 64.15 L654.50 63.77 L655.00 63.38 L655.50 62.99 L656.00 62.61 L656.50 62.22 L657.00 61.83 L657.50 61.45 L658.00 61.06 L658.50 60.67 L659.00 60.29 L659.50 59.90 L660.00 59.51 L660.50 59.12 L661.00 58.74 L661.50 58.35 L662.00 57.96 L662.50 57.58 L663.00 57.19 L663.50 56.80 L664.00 56.42 L664.50 56.03 L665.00 55.64 L665.50 55.26 L666.00 54.87 L666.50 54.48 L667.00 54.10 L667.50 53.71 L668.00 53.32 L668.50 52.94 L669.00 52.55 L669.50 52.16 L670.00 51.78 L670.50 51.39 L671.00 51.00 L671.50 50.61 L672.00 50.23 L672.50 49.84 L673.00 49.45 L673.50 49.07 L674.00 48.68 L674.50 48.29 L675.00 47.91 L675.50 47.52 L676.00 47.13 L676.50 46.75 L677.00 46.36 L677.50 45.97 L678.00 45.59 L678.50 45.20 L679.00 44.81 L679.50 44.43 L680.00 44.04 L680.48 43.67"/>
<path d="M680.48 43.67 L680.50 43.65 L681.00 43.26 L681.50 42.88 L682.00 42.49 L682.50 42.10 L683.00 41.72 L683.50 41.33 L684.00 40.94 L684.50 40.56 L685.00 40.17 L685.50 39.78 L686.00 39.40 L686.50 39.01 L687.00 38.62 L687.50 38.24 L688.00 37.85 L688.50 37.46 L689.00 37.08 L689.50 36.69 L690.00 36.30 L690.50 35.92 L691.00 35.53 L691.50 35.14 L692.00 34.75 L692.50 34.37 L693.00 33.98 L693.50 33.59 L694.00 33.21 L694.50 32.82 L695.00 32.43 L695.50 32.05 L696.00 31.66 L696.50 31.27 L697.00 30.89 L697.50 30.50 L698.00 30.11 L698.50 29.73 L699.00 29.34 L699.50 28.95 L700.00 28.57 L700.50 28.18 L701.00 27.79 L701.50 27.40 L702.00 27.02 L702.50 26.63 L703.00 26.24 L703.50 25.86 L704.00 25.47 L704.50 25.08 L705.00 24.70 L705.50 24.31 L706.00 23.92 L706.50 23.54 L707.00 23.15 L707.50 22.76 L708.00 22.38 L708.50 21.99 L709.00 21.60 L709.50 21.22 L710.00 20.83 L710.50 20.44 L711.00 20.06 L711.50 19.67 L712.00 19.28 L712.50 18.89 L713.00 18.51 L713.50 18.12 L714.00 17.73 L714.50 17.35 L715.00 16.96 L715.50 16.57 L716.00 16.19 L716.50 15.80 L717.00 15.41 L717.50 15.03 L718.00 14.64 L718.50 14.25 L719.00 13.87 L719.50 13.48 L720.00 13.09 L720.50 12.71 L721.00 12.32 L721.50 11.93 L722.00 11.54 L722.50 11.16 L723.00 10.77 L723.50 10.38 L724.00 10.00 L724.50 9.61 L725.00 9.22 L725.50 8.84 L726.00 8.45 L726.50 8.06 L727.00 7.68 L727.50 7.29 L728.00 6.90 L728.50 6.52 L729.00 6.13 L729.50 5.74 L730.00 5.36 L730.50 4.97 L731.00 4.58 L731.16 4.46"/>
</g>
<g fill="none" stroke="#000000" stroke-width="3.25" stroke-linejoin="round" stroke-dasharray="31.8 10.6 5.5 10.3">
<path d="M123.00 540.80 L123.50 540.78 L124.00 540.71 L124.50 540.60 L125.00 540.42 L125.50 540.20 L126.00 539.90 L126.50 539.55 L127.00 539.12 L127.50 538.63 L128.00 538.08 L128.50 537.49 L129.00 536.87 L129.50 536.22 L130.00 535.50 L130.50 534.68 L131.00 533.73 L131.50 532.66 L132.00 531.52 L132.50 530.36 L133.00 529.20 L133.50 528.09 L134.00 527.03 L134.50 526.03 L135.00 525.09 L135.50 524.20 L136.00 523.38 L136.50 522.62 L137.00 521.95 L137.50 521.38 L138.00 520.90 L138.50 520.53 L139.00 520.26 L139.50 520.07 L140.00 519.94 L140.50 519.85 L141.00 519.80 L141.50 519.76 L142.00 519.73 L142.50 519.70 L143.00 519.67 L143.50 519.63 L144.00 519.58 L144.50 519.52 L145.00 519.43 L145.50 519.32 L146.00 519.17 L146.50 518.98 L147.00 518.75 L147.50 518.47 L148.00 518.13 L148.50 517.73 L149.00 517.26 L149.50 516.73 L150.00 516.13 L150.50 515.46 L151.00 514.74 L151.50 514.02 L152.00 513.33 L152.50 512.71 L153.00 512.16 L153.50 511.63 L154.00 511.12 L154.50 510.58 L155.00 510.02 L155.50 509.43 L156.00 508.84 L156.50 508.26 L157.00 507.71 L157.50 507.19 L158.00 506.71 L158.50 506.27 L159.00 505.88 L159.50 505.54 L160.00 505.25 L160.50 505.01 L161.00 504.82 L161.50 504.67 L162.00 504.56 L162.50 504.47 L163.00 504.41 L163.50 504.37 L164.00 504.34 L164.50 504.32 L165.00 504.30 L165.50 504.29 L166.00 504.28 L166.50 504.27 L167.00 504.24 L167.50 504.21 L168.00 504.16 L168.50 504.08 L169.00 503.98 L169.50 503.83 L170.00 503.64 L170.50 503.40 L171.00 503.11 L171.50 502.76 L172.00 502.38 L172.50 501.96 L173.00 501.50 L173.50 501.02 L173.68 500.83"/>
<path d="M173.68 500.83 L174.00 500.51 L174.50 499.99 L175.00 499.45 L175.50 498.92 L176.00 498.39 L176.50 497.87 L177.00 497.37 L177.50 496.89 L178.00 496.44 L178.50 496.03 L179.00 495.66 L179.50 495.33 L180.00 495.06 L180.50 494.82 L181.00 494.63 L181.50 494.49 L182.00 494.38 L182.50 494.32 L183.00 494.29 L183.50 494.31 L184.00 494.35 L184.50 494.44 L185.00 494.54 L185.50 494.67 L186.00 494.81 L186.50 494.96 L187.00 495.11 L187.50 495.26 L188.00 495.40 L188.50 495.53 L189.00 495.64 L189.50 495.73 L190.00 495.79 L190.50 495.81 L191.00 495.80 L191.50 495.75 L192.00 495.67 L192.50 495.56 L193.00 495.42 L193.50 495.25 L194.00 495.06 L194.50 494.85 L195.00 494.62 L195.50 494.37 L196.00 494.10 L196.50 493.82 L197.00 493.53 L197.50 493.23 L198.00 492.93 L198.50 492.64 L199.00 492.36 L199.50 492.09 L200.00 491.84 L200.50 491.62 L201.00 491.42 L201.50 491.26 L202.00 491.13 L202.50 491.04 L203.00 490.99 L203.50 490.98 L204.00 491.00 L204.50 491.06 L205.00 491.15 L205.50 491.27 L206.00 491.42 L206.50 491.59 L207.00 491.80 L207.50 492.03 L208.00 492.28 L208.50 492.55 L209.00 492.83 L209.50 493.12 L210.00 493.40 L210.50 493.69 L211.00 493.97 L211.50 494.24 L212.00 494.49 L212.50 494.71 L213.00 494.92 L213.50 495.09 L214.00 495.22 L214.50 495.32 L215.00 495.37 L215.50 495.38 L216.00 495.36 L216.50 495.31 L217.00 495.24 L217.50 495.15 L218.00 495.05 L218.50 494.94 L219.00 494.82 L219.50 494.71 L220.00 494.60 L220.50 494.50 L221.00 494.42 L221.50 494.36 L222.00 494.32 L222.50 494.31 L223.00 494.33 L223.50 494.38 L224.00 494.47 L224.36 494.56"/>
<path d="M224.36 494.56 L224.50 494.60 L225.00 494.77 L225.50 495.00 L226.00 495.27 L226.50 495.58 L227.00 495.93 L227.50 496.31 L228.00 496.71 L228.50 497.13 L229.00 497.56 L229.50 497.99 L230.00 498.43 L230.50 498.85 L231.00 499.26 L231.50 499.65 L232.00 500.02 L232.50 500.36 L233.00 500.68 L233.50 500.98 L234.00 501.25 L234.50 501.50 L235.00 501.73 L235.50 501.94 L236.00 502.12 L236.50 502.29 L237.00 502.43 L237.50 502.55 L238.00 502.65 L238.50 502.73 L239.00 502.80 L239.50 502.86 L240.00 502.92 L240.50 502.97 L241.00 503.02 L241.50 503.08 L242.00 503.14 L242.50 503.22 L243.00 503.31 L243.50 503.42 L244.00 503.55 L244.50 503.70 L245.00 503.88 L245.50 504.09 L246.00 504.32 L246.50 504.58 L247.00 504.86 L247.50 505.16 L248.00 505.48 L248.50 505.82 L249.00 506.17 L249.50 506.54 L250.00 506.93 L250.50 507.33 L251.00 507.73 L251.50 508.15 L252.00 508.58 L252.50 509.01 L253.00 509.45 L253.50 509.90 L254.00 510.35 L254.50 510.81 L255.00 511.27 L255.50 511.73 L256.00 512.19 L256.50 512.65 L257.00 513.11 L257.50 513.57 L258.00 514.03 L258.50 514.49 L259.00 514.94 L259.50 515.38 L260.00 515.82 L260.50 516.25 L261.00 516.68 L261.50 517.09 L262.00 517.50 L262.50 517.90 L263.00 518.28 L263.50 518.66 L264.00 519.03 L264.50 519.40 L265.00 519.76 L265.50 520.12 L266.00 520.48 L266.50 520.84 L267.00 521.20 L267.50 521.57 L268.00 521.94 L268.50 522.31 L269.00 522.70 L269.50 523.09 L270.00 523.49 L270.50 523.90 L271.00 524.33 L271.50 524.77 L272.00 525.23 L272.50 525.70 L273.00 526.19 L273.50 526.70 L274.00 527.24 L274.50 527.79 L275.00 528.35 L275.04 528.40"/>
<path d="M275.04 528.40 L275.50 528.94 L276.00 529.53 L276.50 530.13 L277.00 530.75 L277.50 531.37 L278.00 531.99 L278.50 532.62 L279.00 533.25 L279.50 533.88 L280.00 534.50 L280.50 535.12 L281.00 535.73 L281.50 536.33 L282.00 536.92 L282.50 537.49 L283.00 538.05 L283.50 538.59 L284.00 539.10 L284.50 539.59 L285.00 540.05 L285.50 540.47 L286.00 540.86 L286.50 541.20 L287.00 541.50 L287.50 541.76 L288.00 541.99 L288.50 542.20 L289.00 542.38 L289.50 542.55 L290.00 542.71 L290.50 542.79 L291.00 542.75 L291.50 542.66 L292.00 542.52 L292.50 542.36 L293.00 542.15 L293.50 541.92 L294.00 541.67 L294.50 541.40 L295.00 541.11 L295.50 540.82 L296.00 540.53 L296.50 540.25 L297.00 539.97 L297.50 539.72 L298.00 539.49 L298.50 539.29 L299.00 539.12 L299.50 538.98 L300.00 538.88 L300.50 538.82 L301.00 538.81 L301.50 538.83 L302.00 538.89 L302.50 538.99 L303.00 539.12 L303.50 539.29 L304.00 539.49 L304.50 539.71 L305.00 539.95 L305.50 540.20 L306.00 540.47 L306.50 540.73 L307.00 541.00 L307.50 541.26 L308.00 541.50 L308.50 541.73 L309.00 541.93 L309.50 542.11 L310.00 542.26 L310.50 542.38 L311.00 542.46 L311.50 542.50 L312.00 542.51 L312.50 542.48 L313.00 542.42 L313.50 542.32 L314.00 542.19 L314.50 542.04 L315.00 541.85 L315.50 541.65 L316.00 541.43 L316.50 541.19 L317.00 540.95 L317.50 540.71 L318.00 540.47 L318.50 540.24 L319.00 540.02 L319.50 539.82 L320.00 539.64 L320.50 539.48 L321.00 539.35 L321.50 539.25 L322.00 539.18 L322.50 539.15 L323.00 539.15 L323.50 539.18 L324.00 539.24 L324.50 539.34 L325.00 539.46 L325.50 539.61 L325.72 539.69"/>
<path d="M325.72 539.69 L326.00 539.79 L326.50 539.98 L327.00 540.18 L327.50 540.40 L328.00 540.62 L328.50 540.85 L329.00 541.07 L329.50 541.28 L330.00 541.49 L330.50 541.67 L331.00 541.84 L331.50 541.99 L332.00 542.11 L332.50 542.20 L333.00 542.26 L333.50 542.29 L334.00 542.30 L334.50 542.27 L335.00 542.21 L335.50 542.12 L336.00 542.01 L336.50 541.88 L337.00 541.72 L337.50 541.54 L338.00 541.36 L338.50 541.16 L339.00 540.95 L339.50 540.75 L340.00 540.54 L340.50 540.35 L341.00 540.16 L341.50 539.99 L342.00 539.83 L342.50 539.70 L343.00 539.59 L343.50 539.50 L344.00 539.44 L344.50 539.41 L345.00 539.41 L345.50 539.43 L346.00 539.48 L346.50 539.56 L347.00 539.67 L347.50 539.79 L348.00 539.94 L348.50 540.10 L349.00 540.27 L349.50 540.46 L350.00 540.65 L350.50 540.84 L351.00 541.03 L351.50 541.22 L352.00 541.40 L352.50 541.56 L353.00 541.71 L353.50 541.84 L354.00 541.95 L354.50 542.04 L355.00 542.10 L355.50 542.13 L356.00 542.14 L356.50 542.13 L357.00 542.08 L357.50 542.02 L358.00 541.93 L358.50 541.82 L359.00 541.69 L359.50 541.54 L360.00 541.38 L360.50 541.21 L361.00 541.03 L361.50 540.86 L362.00 540.68 L362.50 540.50 L363.00 540.34 L363.50 540.18 L364.00 540.04 L364.50 539.91 L365.00 539.81 L365.50 539.72 L366.00 539.66 L366.50 539.62 L367.00 539.60 L367.50 539.61 L368.00 539.65 L368.50 539.70 L369.00 539.78 L369.50 539.88 L370.00 540.00 L370.50 540.13 L371.00 540.28 L371.50 540.44 L372.00 540.60 L372.50 540.77 L373.00 540.94 L373.50 541.11 L374.00 541.27 L374.50 541.42 L375.00 541.56 L375.50 541.69 L376.00 541.79 L376.40 541.87"/>
<path d="M376.40 541.87 L376.50 541.88 L377.00 541.95 L377.50 542.00 L378.00 542.02 L378.50 542.03 L379.00 542.00 L379.50 541.96 L380.00 541.90 L380.50 541.81 L381.00 541.71 L381.50 541.59 L382.00 541.46 L382.50 541.31 L383.00 541.16 L383.50 541.00 L384.00 540.85 L384.50 540.69 L385.00 540.53 L385.50 540.39 L386.00 540.25 L386.50 540.13 L387.00 540.02 L387.50 539.93 L388.00 539.85 L388.50 539.80 L389.00 539.77 L389.50 539.75 L390.00 539.77 L390.50 539.80 L391.00 539.85 L391.50 539.92 L392.00 540.01 L392.50 540.12 L393.00 540.24 L393.50 540.37 L394.00 540.51 L394.50 540.66 L395.00 540.81 L395.50 540.96 L396.00 541.11 L396.50 541.26 L397.00 541.39 L397.50 541.52 L398.00 541.63 L398.50 541.73 L399.00 541.81 L399.50 541.87 L400.00 541.92 L400.50 541.94 L401.00 541.94 L401.50 541.92 L402.00 541.89 L402.50 541.83 L403.00 541.75 L403.50 541.66 L404.00 541.56 L404.50 541.44 L405.00 541.31 L405.50 541.17 L406.00 541.03 L406.50 540.89 L407.00 540.74 L407.50 540.60 L408.00 540.47 L408.50 540.34 L409.00 540.23 L409.50 540.13 L410.00 540.04 L410.50 539.97 L411.00 539.92 L411.50 539.89 L412.00 539.87 L412.50 539.88 L413.00 539.90 L413.50 539.95 L414.00 540.01 L414.50 540.09 L415.00 540.18 L415.50 540.29 L416.00 540.41 L416.50 540.53 L417.00 540.67 L417.50 540.80 L418.00 540.94 L418.50 541.08 L419.00 541.21 L419.50 541.34 L420.00 541.46 L420.50 541.56 L421.00 541.66 L421.50 541.74 L422.00 541.80 L422.50 541.84 L423.00 541.87 L423.50 541.88 L424.00 541.87 L424.50 541.84 L425.00 541.80 L425.50 541.73 L426.00 541.66 L426.50 541.56 L427.00 541.46 L427.08 541.44"/>
<path d="M427.08 541.44 L427.50 541.34 L428.00 541.22 L428.50 541.09 L429.00 540.96 L429.50 540.83 L430.00 540.70 L430.50 540.57 L431.00 540.45 L431.50 540.34 L432.00 540.24 L432.50 540.16 L433.00 540.08 L433.50 540.03 L434.00 539.99 L434.50 539.97 L435.00 539.96 L435.50 539.98 L436.00 540.01 L436.50 540.06 L437.00 540.12 L437.50 540.20 L438.00 540.30 L438.50 540.40 L439.00 540.51 L439.50 540.63 L440.00 540.76 L440.50 540.89 L441.00 541.02 L441.50 541.14 L442.00 541.26 L442.50 541.38 L443.00 541.48 L443.50 541.58 L444.00 541.66 L444.50 541.73 L445.00 541.78 L445.50 541.81 L446.00 541.83 L446.50 541.83 L447.00 541.82 L447.50 541.78 L448.00 541.74 L448.50 541.67 L449.00 541.59 L449.50 541.50 L450.00 541.40 L450.50 541.29 L451.00 541.17 L451.50 541.05 L452.00 540.93 L452.50 540.81 L453.00 540.69 L453.50 540.57 L454.00 540.46 L454.50 540.36 L455.00 540.27 L455.50 540.20 L456.00 540.13 L456.50 540.08 L457.00 540.05 L457.50 540.04 L458.00 540.04 L458.50 540.06 L459.00 540.09 L459.50 540.14 L460.00 540.20 L460.50 540.28 L461.00 540.37 L461.50 540.47 L462.00 540.58 L462.50 540.69 L463.00 540.81 L463.50 540.93 L464.00 541.05 L464.50 541.17 L465.00 541.28 L465.50 541.39 L466.00 541.48 L466.50 541.57 L467.00 541.65 L467.50 541.71 L468.00 541.75 L468.50 541.78 L469.00 541.80 L469.50 541.80 L470.00 541.78 L470.50 541.75 L471.00 541.70 L471.50 541.63 L472.00 541.56 L472.50 541.47 L473.00 541.38 L473.50 541.27 L474.00 541.16 L474.50 541.05 L475.00 540.93 L475.50 540.81 L476.00 540.70 L476.50 540.59 L477.00 540.49 L477.50 540.39 L477.76 540.35"/>
<path d="M477.76 540.35 L478.00 540.31 L478.50 540.24 L479.00 540.18 L479.50 540.14 L480.00 540.11 L480.50 540.09 L481.00 540.10 L481.50 540.11 L482.00 540.15 L482.50 540.19 L483.00 540.26 L483.50 540.33 L484.00 540.41 L484.50 540.51 L485.00 540.61 L485.50 540.72 L486.00 540.83 L486.50 540.95 L487.00 541.06 L487.50 541.17 L488.00 541.28 L488.50 541.38 L489.00 541.47 L489.50 541.55 L490.00 541.63 L490.50 541.68 L491.00 541.73 L491.50 541.76 L492.00 541.77 L492.50 541.77 L493.00 541.75 L493.50 541.72 L494.00 541.68 L494.50 541.62 L495.00 541.55 L495.50 541.46 L496.00 541.37 L496.50 541.27 L497.00 541.17 L497.50 541.06 L498.00 540.95 L498.50 540.84 L499.00 540.73 L499.50 540.62 L500.00 540.52 L500.50 540.43 L501.00 540.35 L501.50 540.28 L502.00 540.23 L502.50 540.18 L503.00 540.15 L503.50 540.14 L504.00 540.14 L504.50 540.15 L505.00 540.18 L505.50 540.23 L506.00 540.29 L506.50 540.35 L507.00 540.43 L507.50 540.52 L508.00 540.62 L508.50 540.72 L509.00 540.83 L509.50 540.94 L510.00 541.05 L510.50 541.16 L511.00 541.26 L511.50 541.36 L512.00 541.45 L512.50 541.53 L513.00 541.60 L513.50 541.66 L514.00 541.70 L514.50 541.73 L515.00 541.75 L515.50 541.75 L516.00 541.74 L516.50 541.71 L517.00 541.67 L517.50 541.62 L518.00 541.55 L518.50 541.47 L519.00 541.39 L519.50 541.29 L520.00 541.19 L520.50 541.09 L521.00 540.98 L521.50 540.87 L522.00 540.77 L522.50 540.67 L523.00 540.57 L523.50 540.48 L524.00 540.40 L524.50 540.33 L525.00 540.27 L525.50 540.23 L526.00 540.20 L526.50 540.18 L527.00 540.17 L527.50 540.18 L528.00 540.21 L528.44 540.24"/>
<path d="M528.44 540.24 L528.50 540.25 L529.00 540.30 L529.50 540.36 L530.00 540.44 L530.50 540.52 L531.00 540.61 L531.50 540.71 L532.00 540.81 L532.50 540.92 L533.00 541.02 L533.50 541.13 L534.00 541.23 L534.50 541.33 L535.00 541.41 L535.50 541.50 L536.00 541.57 L536.50 541.63 L537.00 541.67 L537.50 541.71 L538.00 541.73 L538.50 541.73 L539.00 541.73 L539.50 541.71 L540.00 541.67 L540.50 541.62 L541.00 541.56 L541.50 541.49 L542.00 541.41 L542.50 541.32 L543.00 541.23 L543.50 541.13 L544.00 541.03 L544.50 540.92 L545.00 540.82 L545.50 540.72 L546.00 540.62 L546.50 540.53 L547.00 540.45 L547.50 540.38 L548.00 540.32 L548.50 540.27 L549.00 540.24 L549.50 540.21 L550.00 540.20 L550.50 540.21 L551.00 540.23 L551.50 540.26 L552.00 540.30 L552.50 540.36 L553.00 540.43 L553.50 540.51 L554.00 540.59 L554.50 540.68 L555.00 540.78 L555.50 540.88 L556.00 540.99 L556.50 541.09 L557.00 541.19 L557.50 541.28 L558.00 541.37 L558.50 541.45 L559.00 541.53 L559.50 541.59 L560.00 541.64 L560.50 541.68 L561.00 541.71 L561.50 541.72 L562.00 541.72 L562.50 541.70 L563.00 541.68 L563.50 541.64 L564.00 541.58 L564.50 541.52 L565.00 541.44 L565.50 541.36 L566.00 541.27 L566.50 541.18 L567.00 541.08 L567.50 540.98 L568.00 540.88 L568.50 540.78 L569.00 540.68 L569.50 540.59 L570.00 540.51 L570.50 540.44 L571.00 540.37 L571.50 540.32 L572.00 540.28 L572.50 540.25 L573.00 540.23 L573.50 540.23 L574.00 540.24 L574.50 540.26 L575.00 540.30 L575.50 540.35 L576.00 540.41 L576.50 540.48 L577.00 540.56 L577.50 540.65 L578.00 540.74 L578.50 540.84 L579.00 540.94 L579.12 540.96"/>
<path d="M579.12 540.96 L579.50 541.04 L580.00 541.14 L580.50 541.23 L581.00 541.32 L581.50 541.41 L582.00 541.48 L582.50 541.55 L583.00 541.61 L583.50 541.65 L584.00 541.68 L584.50 541.70 L585.00 541.71 L585.50 541.70 L586.00 541.68 L586.50 541.65 L587.00 541.60 L587.50 541.55 L588.00 541.48 L588.50 541.41 L589.00 541.32 L589.50 541.23 L590.00 541.14 L590.50 541.04 L591.00 540.94 L591.50 540.84 L592.00 540.75 L592.50 540.66 L593.00 540.57 L593.50 540.50 L594.00 540.43 L594.50 540.37 L595.00 540.32 L595.50 540.28 L596.00 540.26 L596.50 540.25 L597.00 540.25 L597.50 540.27 L598.00 540.30 L598.50 540.34 L599.00 540.39 L599.50 540.45 L600.00 540.53 L600.50 540.61 L601.00 540.69 L601.50 540.79 L602.00 540.88 L602.50 540.98 L603.00 541.08 L603.50 541.17 L604.00 541.26 L604.50 541.35 L605.00 541.43 L605.50 541.50 L606.00 541.56 L606.50 541.61 L607.00 541.65 L607.50 541.68 L608.00 541.70 L608.50 541.70 L609.00 541.69 L609.50 541.66 L610.00 541.63 L610.50 541.58 L611.00 541.52 L611.50 541.45 L612.00 541.38 L612.50 541.29 L613.00 541.20 L613.50 541.11 L614.00 541.01 L614.50 540.92 L615.00 540.82 L615.50 540.73 L616.00 540.64 L616.50 540.56 L617.00 540.49 L617.50 540.42 L618.00 540.37 L618.50 540.32 L619.00 540.29 L619.50 540.27 L620.00 540.27 L620.50 540.27 L621.00 540.29 L621.50 540.32 L622.00 540.37 L622.50 540.42 L623.00 540.49 L623.50 540.56 L624.00 540.64 L624.50 540.73 L625.00 540.82 L625.50 540.91 L626.00 541.01 L626.50 541.10 L627.00 541.20 L627.50 541.29 L628.00 541.37 L628.50 541.45 L629.00 541.51 L629.50 541.57 L629.80 541.60"/>
<path d="M629.80 541.60 L630.00 541.62 L630.50 541.65 L631.00 541.68 L631.50 541.69 L632.00 541.69 L632.50 541.67 L633.00 541.65 L633.50 541.61 L634.00 541.56 L634.50 541.50 L635.00 541.43 L635.50 541.35 L636.00 541.27 L636.50 541.18 L637.00 541.09 L637.50 540.99 L638.00 540.90 L638.50 540.80 L639.00 540.72 L639.50 540.63 L640.00 540.55 L640.50 540.48 L641.00 540.42 L641.50 540.37 L642.00 540.33 L642.50 540.30 L643.00 540.29 L643.50 540.28 L644.00 540.29 L644.50 540.31 L645.00 540.35 L645.50 540.39 L646.00 540.45 L646.50 540.51 L647.00 540.59 L647.50 540.67 L648.00 540.75 L648.50 540.85 L649.00 540.94 L649.50 541.03 L650.00 541.13 L650.50 541.22 L651.00 541.30 L651.50 541.38 L652.00 541.46 L652.50 541.52 L653.00 541.58 L653.50 541.62 L654.00 541.65 L654.50 541.67 L655.00 541.68 L655.50 541.68 L656.00 541.66 L656.50 541.63 L657.00 541.59 L657.50 541.54 L658.00 541.48 L658.50 541.41 L659.00 541.33 L659.50 541.25 L660.00 541.16 L660.50 541.07 L661.00 540.98 L661.50 540.88 L662.00 540.79 L662.50 540.71 L663.00 540.62 L663.50 540.55 L664.00 540.48 L664.50 540.42 L665.00 540.37 L665.50 540.34 L666.00 540.31 L666.50 540.30 L667.00 540.30 L667.50 540.31 L668.00 540.33 L668.50 540.37 L669.00 540.41 L669.50 540.47 L670.00 540.53 L670.50 540.61 L671.00 540.69 L671.50 540.77 L672.00 540.86 L672.50 540.96 L673.00 541.05 L673.50 541.14 L674.00 541.23 L674.50 541.31 L675.00 541.39 L675.50 541.46 L676.00 541.52 L676.50 541.58 L677.00 541.62 L677.50 541.65 L678.00 541.67 L678.50 541.68 L679.00 541.67 L679.50 541.65 L680.00 541.62 L680.48 541.58"/>
<path d="M680.48 541.58 L680.50 541.58 L681.00 541.53 L681.50 541.47 L682.00 541.40 L682.50 541.32 L683.00 541.24 L683.50 541.15 L684.00 541.06 L684.50 540.97 L685.00 540.88 L685.50 540.79 L686.00 540.70 L686.50 540.62 L687.00 540.55 L687.50 540.48 L688.00 540.43 L688.50 540.38 L689.00 540.34 L689.50 540.32 L690.00 540.31 L690.50 540.31 L691.00 540.32 L691.50 540.34 L692.00 540.38 L692.50 540.43 L693.00 540.48 L693.50 540.55 L694.00 540.62 L694.50 540.70 L695.00 540.79 L695.50 540.88 L696.00 540.97 L696.50 541.06 L697.00 541.15 L697.50 541.24 L698.00 541.32 L698.50 541.40 L699.00 541.46 L699.50 541.52 L700.00 541.58 L700.50 541.62 L701.00 541.65 L701.50 541.66 L702.00 541.67 L702.50 541.66 L703.00 541.64 L703.50 541.61 L704.00 541.57 L704.50 541.52 L705.00 541.46 L705.50 541.39 L706.00 541.31 L706.50 541.23 L707.00 541.14 L707.50 541.05 L708.00 540.96 L708.50 540.87 L709.00 540.79 L709.50 540.70 L710.00 540.62 L710.50 540.55 L711.00 540.49 L711.50 540.43 L712.00 540.39 L712.50 540.35 L713.00 540.33 L713.50 540.32 L714.00 540.32 L714.50 540.33 L715.00 540.36 L715.50 540.39 L716.00 540.44 L716.50 540.50 L717.00 540.56 L717.50 540.64 L718.00 540.71 L718.50 540.80 L719.00 540.89 L719.50 540.98 L720.00 541.07 L720.50 541.15 L721.00 541.24 L721.50 541.32 L722.00 541.40 L722.50 541.46 L723.00 541.52 L723.50 541.57 L724.00 541.61 L724.50 541.64 L725.00 541.66 L725.50 541.66 L726.00 541.66 L726.50 541.64 L727.00 541.61 L727.50 541.56 L728.00 541.51 L728.50 541.45 L729.00 541.38 L729.50 541.31 L730.00 541.22 L730.50 541.14 L731.00 541.05 L731.16 541.02"/>
<path d="M731.16 541.02 L731.50 540.96 L732.00 540.87 L732.50 540.79 L733.00 540.70 L733.50 540.63 L734.00 540.56 L734.50 540.49 L735.00 540.44 L735.50 540.39 L736.00 540.36 L736.50 540.34 L737.00 540.33 L737.50 540.33 L738.00 540.34 L738.50 540.37 L739.00 540.40 L739.50 540.45 L740.00 540.51 L740.50 540.57 L741.00 540.64 L741.50 540.72 L742.00 540.80 L742.50 540.89 L743.00 540.98 L743.50 541.07 L744.00 541.16 L744.50 541.24 L745.00 541.32 L745.50 541.39 L746.00 541.46 L746.50 541.52 L747.00 541.57 L747.50 541.61 L748.00 541.64 L748.50 541.65 L749.00 541.66 L749.50 541.65 L750.00 541.63 L750.50 541.60 L751.00 541.56 L751.50 541.51 L752.00 541.45 L752.50 541.38 L753.00 541.30 L753.50 541.22 L754.00 541.14 L754.50 541.05 L755.00 540.96 L755.50 540.88 L756.00 540.79 L756.50 540.71 L757.00 540.63 L757.50 540.56 L758.00 540.50 L758.50 540.44 L759.00 540.40 L759.50 540.37 L760.00 540.35 L760.50 540.34 L761.00 540.34 L761.50 540.35 L762.00 540.37 L762.50 540.41 L763.00 540.46 L763.50 540.51 L764.00 540.58 L764.50 540.65 L765.00 540.72 L765.50 540.81 L766.00 540.89 L766.50 540.98 L767.00 541.07 L767.50 541.15 L768.00 541.24 L768.50 541.32 L769.00 541.39 L769.50 541.46 L770.00 541.51 L770.50 541.56 L771.00 541.60 L771.50 541.63 L772.00 541.65 L772.50 541.65 L773.00 541.64 L773.50 541.63 L774.00 541.60 L774.50 541.56 L775.00 541.50 L775.50 541.45 L776.00 541.38 L776.50 541.30 L777.00 541.22 L777.50 541.14 L778.00 541.05 L778.50 540.97 L779.00 540.88 L779.50 540.80 L780.00 540.71 L780.50 540.64 L781.00 540.57 L781.50 540.51 L781.84 540.47"/>
<path d="M781.84 540.47 L782.00 540.45 L782.50 540.41 L783.00 540.38 L783.50 540.35 L784.00 540.34 L784.50 540.34 L785.00 540.36 L785.50 540.38 L786.00 540.42 L786.50 540.46 L787.00 540.52 L787.50 540.58 L788.00 540.65 L788.50 540.73 L789.00 540.81 L789.50 540.89 L790.00 540.98 L790.50 541.07 L791.00 541.15 L791.50 541.23 L792.00 541.31 L792.50 541.38 L793.00 541.45 L793.50 541.51 L794.00 541.56 L794.50 541.60 L795.00 541.62 L795.50 541.64 L796.00 541.65 L796.50 541.64 L797.00 541.62 L797.50 541.59 L798.00 541.55 L798.50 541.50 L799.00 541.44 L799.50 541.38 L800.00 541.31 L800.50 541.23 L801.00 541.14 L801.50 541.06 L802.00 540.97 L802.50 540.89 L803.00 540.80 L803.50 540.72 L804.00 540.65 L804.50 540.58 L805.00 540.51 L805.50 540.46 L806.00 540.42 L806.50 540.38 L807.00 540.36 L807.50 540.35 L808.00 540.35 L808.50 540.36 L809.00 540.39 L809.50 540.42 L810.00 540.46 L810.50 540.52 L811.00 540.58 L811.50 540.65 L812.00 540.72 L812.50 540.80 L813.00 540.89 L813.50 540.97 L814.00 541.06 L814.50 541.14 L815.00 541.23 L815.50 541.31 L816.00 541.38 L816.50 541.44 L817.00 541.50 L817.50 541.55 L818.00 541.59 L818.50 541.62 L819.00 541.63 L819.50 541.64 L820.00 541.63 L820.50 541.62 L821.00 541.59 L821.50 541.55 L822.00 541.50 L822.50 541.45 L823.00 541.38 L823.50 541.31 L824.00 541.23 L824.50 541.15 L825.00 541.06 L825.50 540.98 L826.00 540.89 L826.50 540.81 L827.00 540.73 L827.50 540.66 L828.00 540.59 L828.50 540.52 L829.00 540.47 L829.50 540.43 L830.00 540.39 L830.50 540.37 L831.00 540.36 L831.50 540.36 L832.00 540.37 L832.50 540.39 L832.52 540.39"/>
<path d="M832.52 540.39 L833.00 540.42 L833.50 540.47 L834.00 540.52 L834.50 540.58 L835.00 540.65 L835.50 540.72 L836.00 540.80 L836.50 540.88 L837.00 540.97 L837.50 541.05 L838.00 541.14 L838.50 541.22 L839.00 541.30 L839.50 541.37 L840.00 541.43 L840.50 541.49 L841.00 541.54 L841.50 541.58 L842.00 541.61 L842.50 541.63 L843.00 541.64 L843.50 541.63 L844.00 541.62 L844.50 541.59 L845.00 541.55 L845.50 541.50 L846.00 541.45 L846.50 541.38 L847.00 541.31 L847.50 541.24 L848.00 541.16 L848.50 541.07 L849.00 540.99 L849.50 540.90 L850.00 540.82 L850.50 540.74 L851.00 540.67 L851.50 540.60 L852.00 540.53 L852.50 540.48 L853.00 540.44 L853.50 540.40 L854.00 540.38 L854.50 540.36 L855.00 540.36 L855.50 540.37 L856.00 540.39 L856.50 540.42 L857.00 540.47 L857.50 540.52 L858.00 540.58 L858.50 540.64 L859.00 540.72 L859.50 540.79 L860.00 540.88 L860.50 540.96 L861.00 541.04 L861.50 541.13 L862.00 541.21 L862.50 541.29 L863.00 541.36 L863.50 541.43 L864.00 541.48 L864.50 541.53 L865.00 541.57 L865.50 541.60 L866.00 541.62 L866.50 541.63 L867.00 541.63 L867.50 541.61 L868.00 541.59 L868.50 541.55 L869.00 541.51 L869.50 541.45 L870.00 541.39 L870.50 541.32 L871.00 541.24 L871.50 541.16 L872.00 541.08 L872.50 541.00 L873.00 540.91 L873.50 540.83 L874.00 540.75 L874.50 540.68 L875.00 540.61 L875.50 540.54 L876.00 540.49 L876.50 540.44 L877.00 540.41 L877.50 540.38 L878.00 540.37 L878.50 540.37 L879.00 540.38 L879.50 540.39 L880.00 540.42 L880.50 540.47 L881.00 540.51 L881.50 540.57 L882.00 540.64 L882.50 540.71 L883.00 540.79 L883.20 540.82"/>
<path d="M883.20 540.82 L883.50 540.87 L884.00 540.95 L884.50 541.04 L885.00 541.12 L885.50 541.20 L886.00 541.28 L886.50 541.35 L887.00 541.42 L887.50 541.47 L888.00 541.52 L888.50 541.57 L889.00 541.60 L889.50 541.62 L890.00 541.63 L890.50 541.62 L891.00 541.61 L891.50 541.59 L892.00 541.55 L892.50 541.51 L893.00 541.45 L893.50 541.39 L894.00 541.33 L894.50 541.25 L895.00 541.17 L895.50 541.09 L896.00 541.01 L896.50 540.92 L897.00 540.84 L897.50 540.76 L898.00 540.69 L898.50 540.62 L899.00 540.56 L899.50 540.50 L900.00 540.45 L900.50 540.42 L901.00 540.39 L901.50 540.38 L902.00 540.37 L902.50 540.38 L903.00 540.40 L903.50 540.43 L904.00 540.46 L904.50 540.51 L905.00 540.57 L905.50 540.63 L906.00 540.70 L906.50 540.78 L907.00 540.86 L907.50 540.94 L908.00 541.03 L908.50 541.11 L909.00 541.19 L909.50 541.27 L910.00 541.34 L910.50 541.41 L911.00 541.46 L911.50 541.52 L912.00 541.56 L912.50 541.59 L913.00 541.61 L913.50 541.62 L914.00 541.62 L914.50 541.61 L915.00 541.59 L915.50 541.55 L916.00 541.51 L916.50 541.46 L917.00 541.40 L917.50 541.33 L918.00 541.26 L918.50 541.18 L919.00 541.10 L919.50 541.02 L920.00 540.94 L920.50 540.85 L921.00 540.77 L921.50 540.70 L922.00 540.63 L922.50 540.57 L923.00 540.51 L923.50 540.46 L924.00 540.43 L924.50 540.40 L925.00 540.38 L925.50 540.38 L926.00 540.38 L926.50 540.40 L927.00 540.43 L927.50 540.46 L928.00 540.51 L928.50 540.56 L929.00 540.63 L929.50 540.70 L930.00 540.77 L930.50 540.85 L931.00 540.93 L931.50 541.01 L932.00 541.10 L932.50 541.18 L933.00 541.25 L933.50 541.33 L933.88 541.38"/>
<path d="M933.88 541.38 L934.00 541.39 L934.50 541.45 L935.00 541.51 L935.50 541.55 L936.00 541.58 L936.50 541.60 L937.00 541.62"/>
</g>
</g>
<rect x="123.0" y="33.5" width="814.0" height="558.2" fill="none" stroke="#000" stroke-width="2"/>
<g opacity="0.999">
<text transform="translate(127.40 636.6) scale(0.985 1.068) rotate(0.03)" text-anchor="middle">0</text>
<text transform="translate(290.20 636.6) scale(0.985 1.068) rotate(0.03)" text-anchor="middle">20</text>
<text transform="translate(453.00 636.6) scale(0.985 1.068) rotate(0.03)" text-anchor="middle">40</text>
<text transform="translate(615.80 636.6) scale(0.985 1.068) rotate(0.03)" text-anchor="middle">60</text>
<text transform="translate(778.60 636.6) scale(0.985 1.068) rotate(0.03)" text-anchor="middle">80</text>
<text transform="translate(941.40 636.6) scale(0.985 1.068) rotate(0.03)" text-anchor="middle">100</text>
<text transform="translate(102.6 553.00) scale(0.985 1.068) rotate(0.03)" text-anchor="end">0</text>
<text transform="translate(102.6 451.51) scale(0.985 1.068) rotate(0.03)" text-anchor="end">1</text>
<text transform="translate(102.6 350.02) scale(0.985 1.068) rotate(0.03)" text-anchor="end">2</text>
<text transform="translate(102.6 248.53) scale(0.985 1.068) rotate(0.03)" text-anchor="end">3</text>
<text transform="translate(102.6 147.04) scale(0.985 1.068) rotate(0.03)" text-anchor="end">4</text>
<text transform="translate(102.6 45.55) scale(0.985 1.068) rotate(0.03)" text-anchor="end">5</text>
<text transform="translate(529.3 685.6) rotate(0.03)" text-anchor="middle" font-size="33.6">Time (fs)</text>
<text transform="translate(42.8 312.2) rotate(-90.03)" text-anchor="middle" font-size="33.0">Current (arb. units)</text>
<text transform="translate(799.8 200.50) rotate(0.03)" text-anchor="end" font-size="33.27">polarized Houston</text>
<line x1="820.2" y1="189.5" x2="908.8" y2="189.5" stroke="#ff0000" stroke-width="3"/>
<text transform="translate(799.8 233.70) rotate(0.03)" text-anchor="end" font-size="33.27">Houston</text>
<line x1="820.2" y1="222.8" x2="908.8" y2="222.8" stroke="#228b22" stroke-width="3" stroke-dasharray="11.2 16.5"/>
<text transform="translate(799.8 267.20) rotate(0.03)" text-anchor="end" font-size="33.27">Bloch</text>
<line x1="820.2" y1="256.3" x2="908.8" y2="256.3" stroke="#0000ff" stroke-width="3" stroke-dasharray="5.7 8.2"/>
<text transform="translate(799.8 300.20) rotate(0.03)" text-anchor="end" font-size="33.27">TDSE</text>
<line x1="820.2" y1="289.1" x2="908.8" y2="289.1" stroke="#000000" stroke-width="3" stroke-dasharray="33.2 11 5.7 10.8"/>
</g>
</svg>
</body></html>
